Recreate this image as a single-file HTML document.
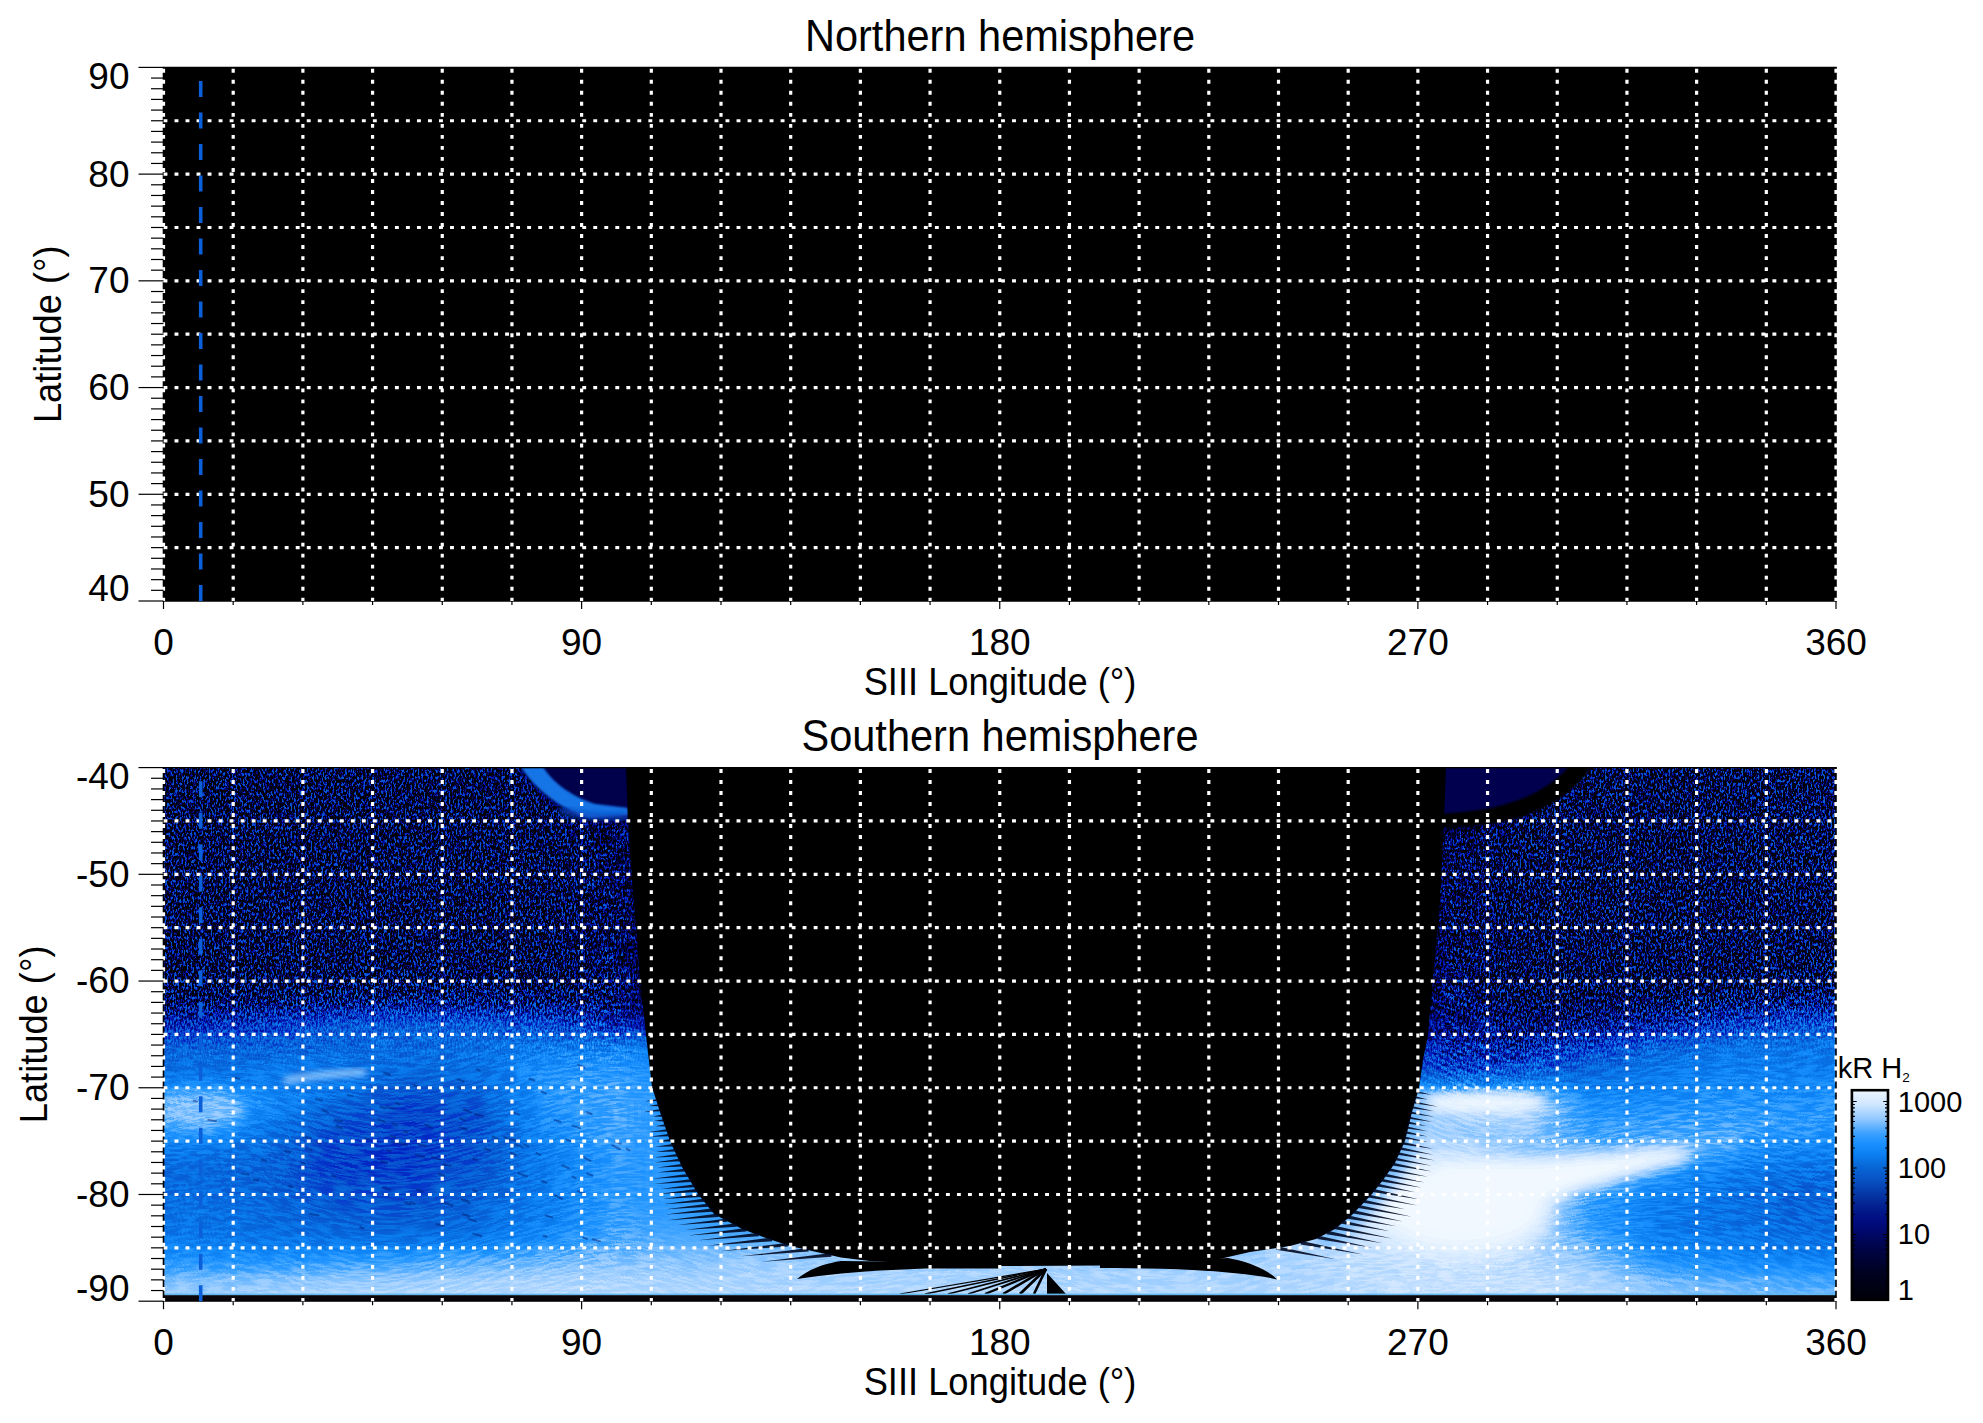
<!DOCTYPE html>
<html><head><meta charset="utf-8"><style>
html,body{margin:0;padding:0;background:#fff;width:1983px;height:1423px;overflow:hidden}
svg{display:block}
text{font-family:'Liberation Sans',sans-serif}
</style></head><body>
<svg width="1983" height="1423" viewBox="0 0 1983 1423">
<rect x="163.5" y="67.4" width="1672.5" height="533.6" fill="#000"/>
<g stroke="#000" fill="none"><line x1="163.5" y1="67.4" x2="163.5" y2="601.0" stroke-width="1.6"/><line x1="1836.0" y1="67.4" x2="1836.0" y2="601.0" stroke-width="1.6"/><line x1="162.7" y1="67.4" x2="1836.8" y2="67.4" stroke-width="1.3"/><line x1="162.7" y1="601.0" x2="1836.8" y2="601.0" stroke-width="1.3"/></g><g stroke="#fff" stroke-width="3.2" stroke-dasharray="3.9 7.12" fill="none"><line x1="163.50" y1="67.40" x2="163.50" y2="601.00" stroke-dashoffset="-1.4"/><line x1="233.19" y1="67.40" x2="233.19" y2="601.00" stroke-dashoffset="-1.4"/><line x1="302.88" y1="67.40" x2="302.88" y2="601.00" stroke-dashoffset="-1.4"/><line x1="372.56" y1="67.40" x2="372.56" y2="601.00" stroke-dashoffset="-1.4"/><line x1="442.25" y1="67.40" x2="442.25" y2="601.00" stroke-dashoffset="-1.4"/><line x1="511.94" y1="67.40" x2="511.94" y2="601.00" stroke-dashoffset="-1.4"/><line x1="581.62" y1="67.40" x2="581.62" y2="601.00" stroke-dashoffset="-1.4"/><line x1="651.31" y1="67.40" x2="651.31" y2="601.00" stroke-dashoffset="-1.4"/><line x1="721.00" y1="67.40" x2="721.00" y2="601.00" stroke-dashoffset="-1.4"/><line x1="790.69" y1="67.40" x2="790.69" y2="601.00" stroke-dashoffset="-1.4"/><line x1="860.38" y1="67.40" x2="860.38" y2="601.00" stroke-dashoffset="-1.4"/><line x1="930.06" y1="67.40" x2="930.06" y2="601.00" stroke-dashoffset="-1.4"/><line x1="999.75" y1="67.40" x2="999.75" y2="601.00" stroke-dashoffset="-1.4"/><line x1="1069.44" y1="67.40" x2="1069.44" y2="601.00" stroke-dashoffset="-1.4"/><line x1="1139.12" y1="67.40" x2="1139.12" y2="601.00" stroke-dashoffset="-1.4"/><line x1="1208.81" y1="67.40" x2="1208.81" y2="601.00" stroke-dashoffset="-1.4"/><line x1="1278.50" y1="67.40" x2="1278.50" y2="601.00" stroke-dashoffset="-1.4"/><line x1="1348.19" y1="67.40" x2="1348.19" y2="601.00" stroke-dashoffset="-1.4"/><line x1="1417.88" y1="67.40" x2="1417.88" y2="601.00" stroke-dashoffset="-1.4"/><line x1="1487.56" y1="67.40" x2="1487.56" y2="601.00" stroke-dashoffset="-1.4"/><line x1="1557.25" y1="67.40" x2="1557.25" y2="601.00" stroke-dashoffset="-1.4"/><line x1="1626.94" y1="67.40" x2="1626.94" y2="601.00" stroke-dashoffset="-1.4"/><line x1="1696.62" y1="67.40" x2="1696.62" y2="601.00" stroke-dashoffset="-1.4"/><line x1="1766.31" y1="67.40" x2="1766.31" y2="601.00" stroke-dashoffset="-1.4"/><line x1="1836.00" y1="67.40" x2="1836.00" y2="601.00" stroke-dashoffset="-1.4"/><line x1="163.50" y1="120.76" x2="1836.00" y2="120.76"/><line x1="163.50" y1="174.12" x2="1836.00" y2="174.12"/><line x1="163.50" y1="227.48" x2="1836.00" y2="227.48"/><line x1="163.50" y1="280.84" x2="1836.00" y2="280.84"/><line x1="163.50" y1="334.20" x2="1836.00" y2="334.20"/><line x1="163.50" y1="387.56" x2="1836.00" y2="387.56"/><line x1="163.50" y1="440.92" x2="1836.00" y2="440.92"/><line x1="163.50" y1="494.28" x2="1836.00" y2="494.28"/><line x1="163.50" y1="547.64" x2="1836.00" y2="547.64"/></g>
<line x1="200.7" y1="601.0" x2="200.7" y2="67.4" stroke="#0b5fd8" stroke-width="3.6" stroke-dasharray="16 15.5"/>
<g stroke="#000" stroke-width="1.2"><line x1="138.5" y1="67.40" x2="163.50" y2="67.40"/><line x1="151" y1="78.07" x2="163.50" y2="78.07"/><line x1="151" y1="88.74" x2="163.50" y2="88.74"/><line x1="151" y1="99.42" x2="163.50" y2="99.42"/><line x1="151" y1="110.09" x2="163.50" y2="110.09"/><line x1="151" y1="120.76" x2="163.50" y2="120.76"/><line x1="151" y1="131.43" x2="163.50" y2="131.43"/><line x1="151" y1="142.10" x2="163.50" y2="142.10"/><line x1="151" y1="152.78" x2="163.50" y2="152.78"/><line x1="151" y1="163.45" x2="163.50" y2="163.45"/><line x1="138.5" y1="174.12" x2="163.50" y2="174.12"/><line x1="151" y1="184.79" x2="163.50" y2="184.79"/><line x1="151" y1="195.46" x2="163.50" y2="195.46"/><line x1="151" y1="206.14" x2="163.50" y2="206.14"/><line x1="151" y1="216.81" x2="163.50" y2="216.81"/><line x1="151" y1="227.48" x2="163.50" y2="227.48"/><line x1="151" y1="238.15" x2="163.50" y2="238.15"/><line x1="151" y1="248.82" x2="163.50" y2="248.82"/><line x1="151" y1="259.50" x2="163.50" y2="259.50"/><line x1="151" y1="270.17" x2="163.50" y2="270.17"/><line x1="138.5" y1="280.84" x2="163.50" y2="280.84"/><line x1="151" y1="291.51" x2="163.50" y2="291.51"/><line x1="151" y1="302.18" x2="163.50" y2="302.18"/><line x1="151" y1="312.86" x2="163.50" y2="312.86"/><line x1="151" y1="323.53" x2="163.50" y2="323.53"/><line x1="151" y1="334.20" x2="163.50" y2="334.20"/><line x1="151" y1="344.87" x2="163.50" y2="344.87"/><line x1="151" y1="355.54" x2="163.50" y2="355.54"/><line x1="151" y1="366.22" x2="163.50" y2="366.22"/><line x1="151" y1="376.89" x2="163.50" y2="376.89"/><line x1="138.5" y1="387.56" x2="163.50" y2="387.56"/><line x1="151" y1="398.23" x2="163.50" y2="398.23"/><line x1="151" y1="408.90" x2="163.50" y2="408.90"/><line x1="151" y1="419.58" x2="163.50" y2="419.58"/><line x1="151" y1="430.25" x2="163.50" y2="430.25"/><line x1="151" y1="440.92" x2="163.50" y2="440.92"/><line x1="151" y1="451.59" x2="163.50" y2="451.59"/><line x1="151" y1="462.26" x2="163.50" y2="462.26"/><line x1="151" y1="472.94" x2="163.50" y2="472.94"/><line x1="151" y1="483.61" x2="163.50" y2="483.61"/><line x1="138.5" y1="494.28" x2="163.50" y2="494.28"/><line x1="151" y1="504.95" x2="163.50" y2="504.95"/><line x1="151" y1="515.62" x2="163.50" y2="515.62"/><line x1="151" y1="526.30" x2="163.50" y2="526.30"/><line x1="151" y1="536.97" x2="163.50" y2="536.97"/><line x1="151" y1="547.64" x2="163.50" y2="547.64"/><line x1="151" y1="558.31" x2="163.50" y2="558.31"/><line x1="151" y1="568.98" x2="163.50" y2="568.98"/><line x1="151" y1="579.66" x2="163.50" y2="579.66"/><line x1="151" y1="590.33" x2="163.50" y2="590.33"/><line x1="138.5" y1="601.00" x2="163.50" y2="601.00"/><line x1="163.50" y1="601.00" x2="163.50" y2="609.00"/><line x1="233.19" y1="601.00" x2="233.19" y2="605.00"/><line x1="302.88" y1="601.00" x2="302.88" y2="605.00"/><line x1="372.56" y1="601.00" x2="372.56" y2="605.00"/><line x1="442.25" y1="601.00" x2="442.25" y2="605.00"/><line x1="511.94" y1="601.00" x2="511.94" y2="605.00"/><line x1="581.62" y1="601.00" x2="581.62" y2="609.00"/><line x1="651.31" y1="601.00" x2="651.31" y2="605.00"/><line x1="721.00" y1="601.00" x2="721.00" y2="605.00"/><line x1="790.69" y1="601.00" x2="790.69" y2="605.00"/><line x1="860.38" y1="601.00" x2="860.38" y2="605.00"/><line x1="930.06" y1="601.00" x2="930.06" y2="605.00"/><line x1="999.75" y1="601.00" x2="999.75" y2="609.00"/><line x1="1069.44" y1="601.00" x2="1069.44" y2="605.00"/><line x1="1139.12" y1="601.00" x2="1139.12" y2="605.00"/><line x1="1208.81" y1="601.00" x2="1208.81" y2="605.00"/><line x1="1278.50" y1="601.00" x2="1278.50" y2="605.00"/><line x1="1348.19" y1="601.00" x2="1348.19" y2="605.00"/><line x1="1417.88" y1="601.00" x2="1417.88" y2="609.00"/><line x1="1487.56" y1="601.00" x2="1487.56" y2="605.00"/><line x1="1557.25" y1="601.00" x2="1557.25" y2="605.00"/><line x1="1626.94" y1="601.00" x2="1626.94" y2="605.00"/><line x1="1696.62" y1="601.00" x2="1696.62" y2="605.00"/><line x1="1766.31" y1="601.00" x2="1766.31" y2="605.00"/><line x1="1836.00" y1="601.00" x2="1836.00" y2="609.00"/></g><g fill="#000"><text x="129.5" y="89.3" text-anchor="end" font-size="37">90</text><text x="129.5" y="186.8" text-anchor="end" font-size="37">80</text><text x="129.5" y="293.4" text-anchor="end" font-size="37">70</text><text x="129.5" y="400.1" text-anchor="end" font-size="37">60</text><text x="129.5" y="506.8" text-anchor="end" font-size="37">50</text><text x="129.5" y="601.0" text-anchor="end" font-size="37">40</text><text x="163.5" y="655.0" text-anchor="middle" font-size="37">0</text><text x="581.6" y="655.0" text-anchor="middle" font-size="37">90</text><text x="999.8" y="655.0" text-anchor="middle" font-size="37">180</text><text x="1417.9" y="655.0" text-anchor="middle" font-size="37">270</text><text x="1836.0" y="655.0" text-anchor="middle" font-size="37">360</text><text x="1000" y="50.8" text-anchor="middle" font-size="43.5" transform="translate(1000 0) scale(0.955 1) translate(-1000 0)">Northern hemisphere</text><text x="1000" y="694.8" text-anchor="middle" font-size="38" transform="translate(1000 0) scale(0.955 1) translate(-1000 0)">SIII Longitude (°)</text><text x="0" y="0" text-anchor="middle" font-size="39" transform="translate(60.8 334.2) rotate(-90) scale(0.93 1)">Latitude (°)</text></g>
<defs><linearGradient id="g0" x1="163.5" x2="1836.0" y1="0" y2="0" gradientUnits="userSpaceOnUse"><stop offset="0.0208" stop-color="#36bf00"/><stop offset="0.0625" stop-color="#36bf00"/><stop offset="0.1042" stop-color="#36bf00"/><stop offset="0.1458" stop-color="#36bf00"/><stop offset="0.1875" stop-color="#36bf00"/><stop offset="0.2292" stop-color="#36bf00"/><stop offset="0.2708" stop-color="#3d9933"/><stop offset="0.3125" stop-color="#3d0000"/><stop offset="0.3542" stop-color="#3d0000"/><stop offset="0.3958" stop-color="#3d0000"/><stop offset="0.4375" stop-color="#3d0000"/><stop offset="0.4792" stop-color="#3d0000"/><stop offset="0.5208" stop-color="#3d0000"/><stop offset="0.5625" stop-color="#3d0000"/><stop offset="0.6042" stop-color="#3d0000"/><stop offset="0.6458" stop-color="#3d0000"/><stop offset="0.6875" stop-color="#3d0000"/><stop offset="0.7292" stop-color="#3d0000"/><stop offset="0.7708" stop-color="#3d9933"/><stop offset="0.8125" stop-color="#36bf00"/><stop offset="0.8542" stop-color="#36bf00"/><stop offset="0.8958" stop-color="#36bf00"/><stop offset="0.9375" stop-color="#38bf00"/><stop offset="0.9792" stop-color="#3bbf00"/></linearGradient><linearGradient id="g1" x1="163.5" x2="1836.0" y1="0" y2="0" gradientUnits="userSpaceOnUse"><stop offset="0.0208" stop-color="#36bf00"/><stop offset="0.0625" stop-color="#36bf00"/><stop offset="0.1042" stop-color="#36bf00"/><stop offset="0.1458" stop-color="#36bf00"/><stop offset="0.1875" stop-color="#36bf00"/><stop offset="0.2292" stop-color="#36bf00"/><stop offset="0.2708" stop-color="#3d9933"/><stop offset="0.3125" stop-color="#3d0000"/><stop offset="0.3542" stop-color="#3d0000"/><stop offset="0.3958" stop-color="#3d0000"/><stop offset="0.4375" stop-color="#3d0000"/><stop offset="0.4792" stop-color="#3d0000"/><stop offset="0.5208" stop-color="#3d0000"/><stop offset="0.5625" stop-color="#3d0000"/><stop offset="0.6042" stop-color="#3d0000"/><stop offset="0.6458" stop-color="#3d0000"/><stop offset="0.6875" stop-color="#3d0000"/><stop offset="0.7292" stop-color="#3d0000"/><stop offset="0.7708" stop-color="#3d9933"/><stop offset="0.8125" stop-color="#36bf00"/><stop offset="0.8542" stop-color="#36bf00"/><stop offset="0.8958" stop-color="#36bf00"/><stop offset="0.9375" stop-color="#38bf00"/><stop offset="0.9792" stop-color="#3bbf00"/></linearGradient><linearGradient id="g2" x1="163.5" x2="1836.0" y1="0" y2="0" gradientUnits="userSpaceOnUse"><stop offset="0.0208" stop-color="#36bf00"/><stop offset="0.0625" stop-color="#36bf00"/><stop offset="0.1042" stop-color="#36bf00"/><stop offset="0.1458" stop-color="#36bf00"/><stop offset="0.1875" stop-color="#36bf00"/><stop offset="0.2292" stop-color="#36bf00"/><stop offset="0.2708" stop-color="#3d9933"/><stop offset="0.3125" stop-color="#3d0000"/><stop offset="0.3542" stop-color="#3d0000"/><stop offset="0.3958" stop-color="#3d0000"/><stop offset="0.4375" stop-color="#3d0000"/><stop offset="0.4792" stop-color="#3d0000"/><stop offset="0.5208" stop-color="#3d0000"/><stop offset="0.5625" stop-color="#3d0000"/><stop offset="0.6042" stop-color="#3d0000"/><stop offset="0.6458" stop-color="#3d0000"/><stop offset="0.6875" stop-color="#3d0000"/><stop offset="0.7292" stop-color="#3d0000"/><stop offset="0.7708" stop-color="#3d9933"/><stop offset="0.8125" stop-color="#36bf00"/><stop offset="0.8542" stop-color="#36bf00"/><stop offset="0.8958" stop-color="#36bf00"/><stop offset="0.9375" stop-color="#38bf00"/><stop offset="0.9792" stop-color="#3bbf00"/></linearGradient><linearGradient id="g3" x1="163.5" x2="1836.0" y1="0" y2="0" gradientUnits="userSpaceOnUse"><stop offset="0.0208" stop-color="#36bf00"/><stop offset="0.0625" stop-color="#36bf00"/><stop offset="0.1042" stop-color="#36bf00"/><stop offset="0.1458" stop-color="#36bf00"/><stop offset="0.1875" stop-color="#36bf00"/><stop offset="0.2292" stop-color="#36bf00"/><stop offset="0.2708" stop-color="#3d9936"/><stop offset="0.3125" stop-color="#3d0000"/><stop offset="0.3542" stop-color="#3d0000"/><stop offset="0.3958" stop-color="#3d0000"/><stop offset="0.4375" stop-color="#3d0000"/><stop offset="0.4792" stop-color="#3d0000"/><stop offset="0.5208" stop-color="#3d0000"/><stop offset="0.5625" stop-color="#3d0000"/><stop offset="0.6042" stop-color="#3d0000"/><stop offset="0.6458" stop-color="#3d0000"/><stop offset="0.6875" stop-color="#3d0000"/><stop offset="0.7292" stop-color="#3d0000"/><stop offset="0.7708" stop-color="#3d9936"/><stop offset="0.8125" stop-color="#36bf00"/><stop offset="0.8542" stop-color="#36bf00"/><stop offset="0.8958" stop-color="#36bf00"/><stop offset="0.9375" stop-color="#38bf00"/><stop offset="0.9792" stop-color="#3bbf00"/></linearGradient><linearGradient id="g4" x1="163.5" x2="1836.0" y1="0" y2="0" gradientUnits="userSpaceOnUse"><stop offset="0.0208" stop-color="#36bf00"/><stop offset="0.0625" stop-color="#36bf00"/><stop offset="0.1042" stop-color="#36bf00"/><stop offset="0.1458" stop-color="#36bf00"/><stop offset="0.1875" stop-color="#36bf00"/><stop offset="0.2292" stop-color="#36bf00"/><stop offset="0.2708" stop-color="#3d993d"/><stop offset="0.3125" stop-color="#3d0000"/><stop offset="0.3542" stop-color="#3d0000"/><stop offset="0.3958" stop-color="#3d0000"/><stop offset="0.4375" stop-color="#3d0000"/><stop offset="0.4792" stop-color="#3d0000"/><stop offset="0.5208" stop-color="#3d0000"/><stop offset="0.5625" stop-color="#3d0000"/><stop offset="0.6042" stop-color="#3d0000"/><stop offset="0.6458" stop-color="#3d0000"/><stop offset="0.6875" stop-color="#3d0000"/><stop offset="0.7292" stop-color="#3d0000"/><stop offset="0.7708" stop-color="#3d993d"/><stop offset="0.8125" stop-color="#36bf00"/><stop offset="0.8542" stop-color="#36bf00"/><stop offset="0.8958" stop-color="#36bf00"/><stop offset="0.9375" stop-color="#38bf00"/><stop offset="0.9792" stop-color="#3bbf00"/></linearGradient><linearGradient id="g5" x1="163.5" x2="1836.0" y1="0" y2="0" gradientUnits="userSpaceOnUse"><stop offset="0.0208" stop-color="#36bf00"/><stop offset="0.0625" stop-color="#36bf00"/><stop offset="0.1042" stop-color="#36bf00"/><stop offset="0.1458" stop-color="#36bf00"/><stop offset="0.1875" stop-color="#36bf00"/><stop offset="0.2292" stop-color="#36bf00"/><stop offset="0.2708" stop-color="#3d9940"/><stop offset="0.3125" stop-color="#3d0000"/><stop offset="0.3542" stop-color="#3d0000"/><stop offset="0.3958" stop-color="#3d0000"/><stop offset="0.4375" stop-color="#3d0000"/><stop offset="0.4792" stop-color="#3d0000"/><stop offset="0.5208" stop-color="#3d0000"/><stop offset="0.5625" stop-color="#3d0000"/><stop offset="0.6042" stop-color="#3d0000"/><stop offset="0.6458" stop-color="#3d0000"/><stop offset="0.6875" stop-color="#3d0000"/><stop offset="0.7292" stop-color="#3d0000"/><stop offset="0.7708" stop-color="#3d9940"/><stop offset="0.8125" stop-color="#36bf00"/><stop offset="0.8542" stop-color="#36bf00"/><stop offset="0.8958" stop-color="#35bf00"/><stop offset="0.9375" stop-color="#37bf00"/><stop offset="0.9792" stop-color="#3abf00"/></linearGradient><linearGradient id="g6" x1="163.5" x2="1836.0" y1="0" y2="0" gradientUnits="userSpaceOnUse"><stop offset="0.0208" stop-color="#36bf00"/><stop offset="0.0625" stop-color="#36bf00"/><stop offset="0.1042" stop-color="#36bf00"/><stop offset="0.1458" stop-color="#36bf00"/><stop offset="0.1875" stop-color="#36bf00"/><stop offset="0.2292" stop-color="#36bf00"/><stop offset="0.2708" stop-color="#3d9940"/><stop offset="0.3125" stop-color="#3d0000"/><stop offset="0.3542" stop-color="#3d0000"/><stop offset="0.3958" stop-color="#3d0000"/><stop offset="0.4375" stop-color="#3d0000"/><stop offset="0.4792" stop-color="#3d0000"/><stop offset="0.5208" stop-color="#3d0000"/><stop offset="0.5625" stop-color="#3d0000"/><stop offset="0.6042" stop-color="#3d0000"/><stop offset="0.6458" stop-color="#3d0000"/><stop offset="0.6875" stop-color="#3d0000"/><stop offset="0.7292" stop-color="#3d0000"/><stop offset="0.7708" stop-color="#3d9940"/><stop offset="0.8125" stop-color="#36bf00"/><stop offset="0.8542" stop-color="#36bf00"/><stop offset="0.8958" stop-color="#34bf00"/><stop offset="0.9375" stop-color="#36bf00"/><stop offset="0.9792" stop-color="#39bf00"/></linearGradient><linearGradient id="g7" x1="163.5" x2="1836.0" y1="0" y2="0" gradientUnits="userSpaceOnUse"><stop offset="0.0208" stop-color="#36bf00"/><stop offset="0.0625" stop-color="#36bf00"/><stop offset="0.1042" stop-color="#36bf00"/><stop offset="0.1458" stop-color="#36bf00"/><stop offset="0.1875" stop-color="#36bf00"/><stop offset="0.2292" stop-color="#36bf00"/><stop offset="0.2708" stop-color="#3d9940"/><stop offset="0.3125" stop-color="#3d0000"/><stop offset="0.3542" stop-color="#3d0000"/><stop offset="0.3958" stop-color="#3d0000"/><stop offset="0.4375" stop-color="#3d0000"/><stop offset="0.4792" stop-color="#3d0000"/><stop offset="0.5208" stop-color="#3d0000"/><stop offset="0.5625" stop-color="#3d0000"/><stop offset="0.6042" stop-color="#3d0000"/><stop offset="0.6458" stop-color="#3d0000"/><stop offset="0.6875" stop-color="#3d0000"/><stop offset="0.7292" stop-color="#3d0000"/><stop offset="0.7708" stop-color="#3d9940"/><stop offset="0.8125" stop-color="#36bf00"/><stop offset="0.8542" stop-color="#36bf00"/><stop offset="0.8958" stop-color="#33bf00"/><stop offset="0.9375" stop-color="#36bf00"/><stop offset="0.9792" stop-color="#38bf00"/></linearGradient><linearGradient id="g8" x1="163.5" x2="1836.0" y1="0" y2="0" gradientUnits="userSpaceOnUse"><stop offset="0.0208" stop-color="#36bf00"/><stop offset="0.0625" stop-color="#36bf00"/><stop offset="0.1042" stop-color="#36bf00"/><stop offset="0.1458" stop-color="#36bf00"/><stop offset="0.1875" stop-color="#36bf00"/><stop offset="0.2292" stop-color="#36bf00"/><stop offset="0.2708" stop-color="#3d9940"/><stop offset="0.3125" stop-color="#3d0000"/><stop offset="0.3542" stop-color="#3d0000"/><stop offset="0.3958" stop-color="#3d0000"/><stop offset="0.4375" stop-color="#3d0000"/><stop offset="0.4792" stop-color="#3d0000"/><stop offset="0.5208" stop-color="#3d0000"/><stop offset="0.5625" stop-color="#3d0000"/><stop offset="0.6042" stop-color="#3d0000"/><stop offset="0.6458" stop-color="#3d0000"/><stop offset="0.6875" stop-color="#3d0000"/><stop offset="0.7292" stop-color="#3d0000"/><stop offset="0.7708" stop-color="#3d9940"/><stop offset="0.8125" stop-color="#36bf00"/><stop offset="0.8542" stop-color="#36bf00"/><stop offset="0.8958" stop-color="#33bf00"/><stop offset="0.9375" stop-color="#36bf00"/><stop offset="0.9792" stop-color="#38bf00"/></linearGradient><linearGradient id="g9" x1="163.5" x2="1836.0" y1="0" y2="0" gradientUnits="userSpaceOnUse"><stop offset="0.0208" stop-color="#36bf00"/><stop offset="0.0625" stop-color="#36bf00"/><stop offset="0.1042" stop-color="#36bf00"/><stop offset="0.1458" stop-color="#36bf00"/><stop offset="0.1875" stop-color="#36bf00"/><stop offset="0.2292" stop-color="#36bf00"/><stop offset="0.2708" stop-color="#3d9940"/><stop offset="0.3125" stop-color="#3d0000"/><stop offset="0.3542" stop-color="#3d0000"/><stop offset="0.3958" stop-color="#3d0000"/><stop offset="0.4375" stop-color="#3d0000"/><stop offset="0.4792" stop-color="#3d0000"/><stop offset="0.5208" stop-color="#3d0000"/><stop offset="0.5625" stop-color="#3d0000"/><stop offset="0.6042" stop-color="#3d0000"/><stop offset="0.6458" stop-color="#3d0000"/><stop offset="0.6875" stop-color="#3d0000"/><stop offset="0.7292" stop-color="#3d0000"/><stop offset="0.7708" stop-color="#3d9940"/><stop offset="0.8125" stop-color="#36bf00"/><stop offset="0.8542" stop-color="#36bf00"/><stop offset="0.8958" stop-color="#34bf00"/><stop offset="0.9375" stop-color="#36bf00"/><stop offset="0.9792" stop-color="#38bf00"/></linearGradient><linearGradient id="g10" x1="163.5" x2="1836.0" y1="0" y2="0" gradientUnits="userSpaceOnUse"><stop offset="0.0208" stop-color="#36bf00"/><stop offset="0.0625" stop-color="#36bf00"/><stop offset="0.1042" stop-color="#36bf00"/><stop offset="0.1458" stop-color="#36bf00"/><stop offset="0.1875" stop-color="#36bf00"/><stop offset="0.2292" stop-color="#36bf00"/><stop offset="0.2708" stop-color="#3d9940"/><stop offset="0.3125" stop-color="#3d0000"/><stop offset="0.3542" stop-color="#3d0000"/><stop offset="0.3958" stop-color="#3d0000"/><stop offset="0.4375" stop-color="#3d0000"/><stop offset="0.4792" stop-color="#3d0000"/><stop offset="0.5208" stop-color="#3d0000"/><stop offset="0.5625" stop-color="#3d0000"/><stop offset="0.6042" stop-color="#3d0000"/><stop offset="0.6458" stop-color="#3d0000"/><stop offset="0.6875" stop-color="#3d0000"/><stop offset="0.7292" stop-color="#3d0000"/><stop offset="0.7708" stop-color="#3d9940"/><stop offset="0.8125" stop-color="#36bf00"/><stop offset="0.8542" stop-color="#36bf00"/><stop offset="0.8958" stop-color="#35bf00"/><stop offset="0.9375" stop-color="#36bf00"/><stop offset="0.9792" stop-color="#38bf00"/></linearGradient><linearGradient id="g11" x1="163.5" x2="1836.0" y1="0" y2="0" gradientUnits="userSpaceOnUse"><stop offset="0.0208" stop-color="#36bf00"/><stop offset="0.0625" stop-color="#36bf00"/><stop offset="0.1042" stop-color="#36bf00"/><stop offset="0.1458" stop-color="#36bf00"/><stop offset="0.1875" stop-color="#36bf00"/><stop offset="0.2292" stop-color="#36bf00"/><stop offset="0.2708" stop-color="#3d9940"/><stop offset="0.3125" stop-color="#3d0000"/><stop offset="0.3542" stop-color="#3d0000"/><stop offset="0.3958" stop-color="#3d0000"/><stop offset="0.4375" stop-color="#3d0000"/><stop offset="0.4792" stop-color="#3d0000"/><stop offset="0.5208" stop-color="#3d0000"/><stop offset="0.5625" stop-color="#3d0000"/><stop offset="0.6042" stop-color="#3d0000"/><stop offset="0.6458" stop-color="#3d0000"/><stop offset="0.6875" stop-color="#3d0000"/><stop offset="0.7292" stop-color="#3d0000"/><stop offset="0.7708" stop-color="#3d9940"/><stop offset="0.8125" stop-color="#36bf00"/><stop offset="0.8542" stop-color="#36bf00"/><stop offset="0.8958" stop-color="#36bf00"/><stop offset="0.9375" stop-color="#36bf00"/><stop offset="0.9792" stop-color="#38bf00"/></linearGradient><linearGradient id="g12" x1="163.5" x2="1836.0" y1="0" y2="0" gradientUnits="userSpaceOnUse"><stop offset="0.0208" stop-color="#36bf00"/><stop offset="0.0625" stop-color="#36bf00"/><stop offset="0.1042" stop-color="#36bf00"/><stop offset="0.1458" stop-color="#36bf00"/><stop offset="0.1875" stop-color="#36bf00"/><stop offset="0.2292" stop-color="#36bf00"/><stop offset="0.2708" stop-color="#3d9940"/><stop offset="0.3125" stop-color="#3d0000"/><stop offset="0.3542" stop-color="#3d0000"/><stop offset="0.3958" stop-color="#3d0000"/><stop offset="0.4375" stop-color="#3d0000"/><stop offset="0.4792" stop-color="#3d0000"/><stop offset="0.5208" stop-color="#3d0000"/><stop offset="0.5625" stop-color="#3d0000"/><stop offset="0.6042" stop-color="#3d0000"/><stop offset="0.6458" stop-color="#3d0000"/><stop offset="0.6875" stop-color="#3d0000"/><stop offset="0.7292" stop-color="#3d0000"/><stop offset="0.7708" stop-color="#3d9940"/><stop offset="0.8125" stop-color="#36bf00"/><stop offset="0.8542" stop-color="#36bf00"/><stop offset="0.8958" stop-color="#36bf00"/><stop offset="0.9375" stop-color="#36bf00"/><stop offset="0.9792" stop-color="#38bf00"/></linearGradient><linearGradient id="g13" x1="163.5" x2="1836.0" y1="0" y2="0" gradientUnits="userSpaceOnUse"><stop offset="0.0208" stop-color="#36bf00"/><stop offset="0.0625" stop-color="#36bf00"/><stop offset="0.1042" stop-color="#36bf00"/><stop offset="0.1458" stop-color="#36bf00"/><stop offset="0.1875" stop-color="#36bf00"/><stop offset="0.2292" stop-color="#36bf00"/><stop offset="0.2708" stop-color="#3e9940"/><stop offset="0.3125" stop-color="#3d0000"/><stop offset="0.3542" stop-color="#3d0000"/><stop offset="0.3958" stop-color="#3d0000"/><stop offset="0.4375" stop-color="#3d0000"/><stop offset="0.4792" stop-color="#3d0000"/><stop offset="0.5208" stop-color="#3d0000"/><stop offset="0.5625" stop-color="#3d0000"/><stop offset="0.6042" stop-color="#3d0000"/><stop offset="0.6458" stop-color="#3d0000"/><stop offset="0.6875" stop-color="#3d0000"/><stop offset="0.7292" stop-color="#3d0000"/><stop offset="0.7708" stop-color="#3e9940"/><stop offset="0.8125" stop-color="#36bf00"/><stop offset="0.8542" stop-color="#36bf00"/><stop offset="0.8958" stop-color="#36bf00"/><stop offset="0.9375" stop-color="#36bf00"/><stop offset="0.9792" stop-color="#39bf00"/></linearGradient><linearGradient id="g14" x1="163.5" x2="1836.0" y1="0" y2="0" gradientUnits="userSpaceOnUse"><stop offset="0.0208" stop-color="#36bf00"/><stop offset="0.0625" stop-color="#36bf00"/><stop offset="0.1042" stop-color="#36bf00"/><stop offset="0.1458" stop-color="#36bf00"/><stop offset="0.1875" stop-color="#36bf00"/><stop offset="0.2292" stop-color="#36bf00"/><stop offset="0.2708" stop-color="#3f9940"/><stop offset="0.3125" stop-color="#3d0000"/><stop offset="0.3542" stop-color="#3d0000"/><stop offset="0.3958" stop-color="#3d0000"/><stop offset="0.4375" stop-color="#3d0000"/><stop offset="0.4792" stop-color="#3d0000"/><stop offset="0.5208" stop-color="#3d0000"/><stop offset="0.5625" stop-color="#3d0000"/><stop offset="0.6042" stop-color="#3d0000"/><stop offset="0.6458" stop-color="#3d0000"/><stop offset="0.6875" stop-color="#3d0000"/><stop offset="0.7292" stop-color="#3d0000"/><stop offset="0.7708" stop-color="#3f9940"/><stop offset="0.8125" stop-color="#36bf00"/><stop offset="0.8542" stop-color="#36bf00"/><stop offset="0.8958" stop-color="#36bf00"/><stop offset="0.9375" stop-color="#36bf00"/><stop offset="0.9792" stop-color="#3abf00"/></linearGradient><linearGradient id="g15" x1="163.5" x2="1836.0" y1="0" y2="0" gradientUnits="userSpaceOnUse"><stop offset="0.0208" stop-color="#37bf00"/><stop offset="0.0625" stop-color="#38bf00"/><stop offset="0.1042" stop-color="#39bf00"/><stop offset="0.1458" stop-color="#39bf00"/><stop offset="0.1875" stop-color="#39bf00"/><stop offset="0.2292" stop-color="#38bf00"/><stop offset="0.2708" stop-color="#419940"/><stop offset="0.3125" stop-color="#3d0000"/><stop offset="0.3542" stop-color="#3d0000"/><stop offset="0.3958" stop-color="#3d0000"/><stop offset="0.4375" stop-color="#3d0000"/><stop offset="0.4792" stop-color="#3d0000"/><stop offset="0.5208" stop-color="#3d0000"/><stop offset="0.5625" stop-color="#3d0000"/><stop offset="0.6042" stop-color="#3d0000"/><stop offset="0.6458" stop-color="#3d0000"/><stop offset="0.6875" stop-color="#3d0000"/><stop offset="0.7292" stop-color="#3d0000"/><stop offset="0.7708" stop-color="#429940"/><stop offset="0.8125" stop-color="#36bf00"/><stop offset="0.8542" stop-color="#36bf00"/><stop offset="0.8958" stop-color="#37bf00"/><stop offset="0.9375" stop-color="#38bf03"/><stop offset="0.9792" stop-color="#3ebc03"/></linearGradient><linearGradient id="g16" x1="163.5" x2="1836.0" y1="0" y2="0" gradientUnits="userSpaceOnUse"><stop offset="0.0208" stop-color="#39bf00"/><stop offset="0.0625" stop-color="#3dbf00"/><stop offset="0.1042" stop-color="#41bf00"/><stop offset="0.1458" stop-color="#41bf00"/><stop offset="0.1875" stop-color="#41bf00"/><stop offset="0.2292" stop-color="#3dbf00"/><stop offset="0.2708" stop-color="#449940"/><stop offset="0.3125" stop-color="#3d0000"/><stop offset="0.3542" stop-color="#3d0000"/><stop offset="0.3958" stop-color="#3d0000"/><stop offset="0.4375" stop-color="#3d0000"/><stop offset="0.4792" stop-color="#3d0000"/><stop offset="0.5208" stop-color="#3d0000"/><stop offset="0.5625" stop-color="#3d0000"/><stop offset="0.6042" stop-color="#3d0000"/><stop offset="0.6458" stop-color="#3d0000"/><stop offset="0.6875" stop-color="#3d0000"/><stop offset="0.7292" stop-color="#3d0000"/><stop offset="0.7708" stop-color="#459940"/><stop offset="0.8125" stop-color="#36bf00"/><stop offset="0.8542" stop-color="#36bf00"/><stop offset="0.8958" stop-color="#39bf00"/><stop offset="0.9375" stop-color="#3dbf08"/><stop offset="0.9792" stop-color="#46b60a"/></linearGradient><linearGradient id="g17" x1="163.5" x2="1836.0" y1="0" y2="0" gradientUnits="userSpaceOnUse"><stop offset="0.0208" stop-color="#49a603"/><stop offset="0.0625" stop-color="#51a303"/><stop offset="0.1042" stop-color="#599d03"/><stop offset="0.1458" stop-color="#5b9b04"/><stop offset="0.1875" stop-color="#5a9d03"/><stop offset="0.2292" stop-color="#53a303"/><stop offset="0.2708" stop-color="#50893b"/><stop offset="0.3125" stop-color="#400000"/><stop offset="0.3542" stop-color="#400000"/><stop offset="0.3958" stop-color="#400000"/><stop offset="0.4375" stop-color="#400000"/><stop offset="0.4792" stop-color="#400000"/><stop offset="0.5208" stop-color="#400000"/><stop offset="0.5625" stop-color="#400000"/><stop offset="0.6042" stop-color="#400000"/><stop offset="0.6458" stop-color="#400000"/><stop offset="0.6875" stop-color="#400000"/><stop offset="0.7292" stop-color="#400000"/><stop offset="0.7708" stop-color="#4b8c40"/><stop offset="0.8125" stop-color="#3baf03"/><stop offset="0.8542" stop-color="#3eaf04"/><stop offset="0.8958" stop-color="#47ae04"/><stop offset="0.9375" stop-color="#51a80d"/><stop offset="0.9792" stop-color="#5c990f"/></linearGradient><linearGradient id="g18" x1="163.5" x2="1836.0" y1="0" y2="0" gradientUnits="userSpaceOnUse"><stop offset="0.0208" stop-color="#677308"/><stop offset="0.0625" stop-color="#736908"/><stop offset="0.1042" stop-color="#805a0a"/><stop offset="0.1458" stop-color="#88520b"/><stop offset="0.1875" stop-color="#845a0a"/><stop offset="0.2292" stop-color="#796908"/><stop offset="0.2708" stop-color="#676932"/><stop offset="0.3125" stop-color="#450000"/><stop offset="0.3542" stop-color="#450000"/><stop offset="0.3958" stop-color="#450000"/><stop offset="0.4375" stop-color="#450000"/><stop offset="0.4792" stop-color="#450000"/><stop offset="0.5208" stop-color="#450000"/><stop offset="0.5625" stop-color="#450000"/><stop offset="0.6042" stop-color="#450000"/><stop offset="0.6458" stop-color="#450000"/><stop offset="0.6875" stop-color="#450000"/><stop offset="0.7292" stop-color="#450000"/><stop offset="0.7708" stop-color="#517340"/><stop offset="0.8125" stop-color="#478f0a"/><stop offset="0.8542" stop-color="#4e8f0b"/><stop offset="0.8958" stop-color="#5f8c0d"/><stop offset="0.9375" stop-color="#737812"/><stop offset="0.9792" stop-color="#816612"/></linearGradient><linearGradient id="g19" x1="163.5" x2="1836.0" y1="0" y2="0" gradientUnits="userSpaceOnUse"><stop offset="0.0208" stop-color="#804b0d"/><stop offset="0.0625" stop-color="#8b410d"/><stop offset="0.1042" stop-color="#98300f"/><stop offset="0.1458" stop-color="#9f2911"/><stop offset="0.1875" stop-color="#9d300f"/><stop offset="0.2292" stop-color="#96400d"/><stop offset="0.2708" stop-color="#844b29"/><stop offset="0.3125" stop-color="#620000"/><stop offset="0.3542" stop-color="#620000"/><stop offset="0.3958" stop-color="#620000"/><stop offset="0.4375" stop-color="#620000"/><stop offset="0.4792" stop-color="#620000"/><stop offset="0.5208" stop-color="#620000"/><stop offset="0.5625" stop-color="#620000"/><stop offset="0.6042" stop-color="#620000"/><stop offset="0.6458" stop-color="#620000"/><stop offset="0.6875" stop-color="#620000"/><stop offset="0.7292" stop-color="#550000"/><stop offset="0.7708" stop-color="#5c663d"/><stop offset="0.8125" stop-color="#567c13"/><stop offset="0.8542" stop-color="#657112"/><stop offset="0.8958" stop-color="#796312"/><stop offset="0.9375" stop-color="#8e4c14"/><stop offset="0.9792" stop-color="#9a3d14"/></linearGradient><linearGradient id="g20" x1="163.5" x2="1836.0" y1="0" y2="0" gradientUnits="userSpaceOnUse"><stop offset="0.0208" stop-color="#962d12"/><stop offset="0.0625" stop-color="#982a12"/><stop offset="0.1042" stop-color="#9f2112"/><stop offset="0.1458" stop-color="#a21f13"/><stop offset="0.1875" stop-color="#a42112"/><stop offset="0.2292" stop-color="#a92612"/><stop offset="0.2708" stop-color="#a62d1f"/><stop offset="0.3125" stop-color="#960000"/><stop offset="0.3542" stop-color="#960000"/><stop offset="0.3958" stop-color="#960000"/><stop offset="0.4375" stop-color="#960000"/><stop offset="0.4792" stop-color="#960000"/><stop offset="0.5208" stop-color="#960000"/><stop offset="0.5625" stop-color="#960000"/><stop offset="0.6042" stop-color="#960000"/><stop offset="0.6458" stop-color="#960000"/><stop offset="0.6875" stop-color="#960000"/><stop offset="0.7292" stop-color="#710000"/><stop offset="0.7708" stop-color="#6b6636"/><stop offset="0.8125" stop-color="#697620"/><stop offset="0.8542" stop-color="#815517"/><stop offset="0.8958" stop-color="#953614"/><stop offset="0.9375" stop-color="#a12414"/><stop offset="0.9792" stop-color="#a71f14"/></linearGradient><linearGradient id="g21" x1="163.5" x2="1836.0" y1="0" y2="0" gradientUnits="userSpaceOnUse"><stop offset="0.0208" stop-color="#a31714"/><stop offset="0.0625" stop-color="#a21714"/><stop offset="0.1042" stop-color="#a71314"/><stop offset="0.1458" stop-color="#a31314"/><stop offset="0.1875" stop-color="#a81314"/><stop offset="0.2292" stop-color="#b61314"/><stop offset="0.2708" stop-color="#bb1718"/><stop offset="0.3125" stop-color="#b20000"/><stop offset="0.3542" stop-color="#b20000"/><stop offset="0.3958" stop-color="#b20000"/><stop offset="0.4375" stop-color="#b20000"/><stop offset="0.4792" stop-color="#b20000"/><stop offset="0.5208" stop-color="#b20000"/><stop offset="0.5625" stop-color="#b20000"/><stop offset="0.6042" stop-color="#b20000"/><stop offset="0.6458" stop-color="#b20000"/><stop offset="0.6875" stop-color="#b20000"/><stop offset="0.7292" stop-color="#860000"/><stop offset="0.7708" stop-color="#7a592f"/><stop offset="0.8125" stop-color="#7d6024"/><stop offset="0.8542" stop-color="#953618"/><stop offset="0.8958" stop-color="#a61714"/><stop offset="0.9375" stop-color="#ad0b14"/><stop offset="0.9792" stop-color="#af0b14"/></linearGradient><linearGradient id="g22" x1="163.5" x2="1836.0" y1="0" y2="0" gradientUnits="userSpaceOnUse"><stop offset="0.0208" stop-color="#a60814"/><stop offset="0.0625" stop-color="#aa0814"/><stop offset="0.1042" stop-color="#af0614"/><stop offset="0.1458" stop-color="#a30614"/><stop offset="0.1875" stop-color="#a80614"/><stop offset="0.2292" stop-color="#be0614"/><stop offset="0.2708" stop-color="#c30816"/><stop offset="0.3125" stop-color="#b60000"/><stop offset="0.3542" stop-color="#b60000"/><stop offset="0.3958" stop-color="#b60000"/><stop offset="0.4375" stop-color="#b60000"/><stop offset="0.4792" stop-color="#b60000"/><stop offset="0.5208" stop-color="#b60000"/><stop offset="0.5625" stop-color="#b60000"/><stop offset="0.6042" stop-color="#b60000"/><stop offset="0.6458" stop-color="#b60000"/><stop offset="0.6875" stop-color="#b60000"/><stop offset="0.7292" stop-color="#930000"/><stop offset="0.7708" stop-color="#8a4028"/><stop offset="0.8125" stop-color="#913921"/><stop offset="0.8542" stop-color="#a01216"/><stop offset="0.8958" stop-color="#ad0814"/><stop offset="0.9375" stop-color="#b20414"/><stop offset="0.9792" stop-color="#b10414"/></linearGradient><linearGradient id="g23" x1="163.5" x2="1836.0" y1="0" y2="0" gradientUnits="userSpaceOnUse"><stop offset="0.0208" stop-color="#b10014"/><stop offset="0.0625" stop-color="#b10014"/><stop offset="0.1042" stop-color="#af0016"/><stop offset="0.1458" stop-color="#9e0016"/><stop offset="0.1875" stop-color="#a40016"/><stop offset="0.2292" stop-color="#c20014"/><stop offset="0.2708" stop-color="#c80014"/><stop offset="0.3125" stop-color="#ba0000"/><stop offset="0.3542" stop-color="#ba0000"/><stop offset="0.3958" stop-color="#ba0000"/><stop offset="0.4375" stop-color="#ba0000"/><stop offset="0.4792" stop-color="#ba0000"/><stop offset="0.5208" stop-color="#ba0000"/><stop offset="0.5625" stop-color="#ba0000"/><stop offset="0.6042" stop-color="#ba0000"/><stop offset="0.6458" stop-color="#ba0000"/><stop offset="0.6875" stop-color="#bf0000"/><stop offset="0.7292" stop-color="#ac0000"/><stop offset="0.7708" stop-color="#a8261e"/><stop offset="0.8125" stop-color="#b11d1a"/><stop offset="0.8542" stop-color="#ab0014"/><stop offset="0.8958" stop-color="#b20014"/><stop offset="0.9375" stop-color="#b80014"/><stop offset="0.9792" stop-color="#b60014"/></linearGradient><linearGradient id="g24" x1="163.5" x2="1836.0" y1="0" y2="0" gradientUnits="userSpaceOnUse"><stop offset="0.0208" stop-color="#c30014"/><stop offset="0.0625" stop-color="#b90014"/><stop offset="0.1042" stop-color="#a70018"/><stop offset="0.1458" stop-color="#94001a"/><stop offset="0.1875" stop-color="#9d0018"/><stop offset="0.2292" stop-color="#c20014"/><stop offset="0.2708" stop-color="#cb0012"/><stop offset="0.3125" stop-color="#bf0000"/><stop offset="0.3542" stop-color="#bf0000"/><stop offset="0.3958" stop-color="#bf0000"/><stop offset="0.4375" stop-color="#bf0000"/><stop offset="0.4792" stop-color="#bf0000"/><stop offset="0.5208" stop-color="#bf0000"/><stop offset="0.5625" stop-color="#bf0000"/><stop offset="0.6042" stop-color="#bf0000"/><stop offset="0.6458" stop-color="#bf0000"/><stop offset="0.6875" stop-color="#cf0000"/><stop offset="0.7292" stop-color="#d20000"/><stop offset="0.7708" stop-color="#d60d12"/><stop offset="0.8125" stop-color="#dd0a11"/><stop offset="0.8542" stop-color="#b70012"/><stop offset="0.8958" stop-color="#b80014"/><stop offset="0.9375" stop-color="#bf0014"/><stop offset="0.9792" stop-color="#bc0014"/></linearGradient><linearGradient id="g25" x1="163.5" x2="1836.0" y1="0" y2="0" gradientUnits="userSpaceOnUse"><stop offset="0.0208" stop-color="#cb0014"/><stop offset="0.0625" stop-color="#b90014"/><stop offset="0.1042" stop-color="#9f001a"/><stop offset="0.1458" stop-color="#8e001d"/><stop offset="0.1875" stop-color="#98001a"/><stop offset="0.2292" stop-color="#c10014"/><stop offset="0.2708" stop-color="#cc0012"/><stop offset="0.3125" stop-color="#c20000"/><stop offset="0.3542" stop-color="#c20000"/><stop offset="0.3958" stop-color="#c20000"/><stop offset="0.4375" stop-color="#c20000"/><stop offset="0.4792" stop-color="#c20000"/><stop offset="0.5208" stop-color="#c20000"/><stop offset="0.5625" stop-color="#c20000"/><stop offset="0.6042" stop-color="#c20000"/><stop offset="0.6458" stop-color="#c30000"/><stop offset="0.6875" stop-color="#d70000"/><stop offset="0.7292" stop-color="#e60000"/><stop offset="0.7708" stop-color="#e9000d"/><stop offset="0.8125" stop-color="#ee000d"/><stop offset="0.8542" stop-color="#bf0012"/><stop offset="0.8958" stop-color="#bf0014"/><stop offset="0.9375" stop-color="#c40014"/><stop offset="0.9792" stop-color="#c10014"/></linearGradient><linearGradient id="g26" x1="163.5" x2="1836.0" y1="0" y2="0" gradientUnits="userSpaceOnUse"><stop offset="0.0208" stop-color="#c80014"/><stop offset="0.0625" stop-color="#b10014"/><stop offset="0.1042" stop-color="#98001b"/><stop offset="0.1458" stop-color="#8b001e"/><stop offset="0.1875" stop-color="#95001b"/><stop offset="0.2292" stop-color="#be0014"/><stop offset="0.2708" stop-color="#cc0012"/><stop offset="0.3125" stop-color="#c20000"/><stop offset="0.3542" stop-color="#c20000"/><stop offset="0.3958" stop-color="#c20000"/><stop offset="0.4375" stop-color="#c20000"/><stop offset="0.4792" stop-color="#c20000"/><stop offset="0.5208" stop-color="#c20000"/><stop offset="0.5625" stop-color="#c20000"/><stop offset="0.6042" stop-color="#c20000"/><stop offset="0.6458" stop-color="#c60000"/><stop offset="0.6875" stop-color="#da0000"/><stop offset="0.7292" stop-color="#e60000"/><stop offset="0.7708" stop-color="#e2000d"/><stop offset="0.8125" stop-color="#e5000d"/><stop offset="0.8542" stop-color="#c40012"/><stop offset="0.8958" stop-color="#c80014"/><stop offset="0.9375" stop-color="#c90014"/><stop offset="0.9792" stop-color="#c50014"/></linearGradient><linearGradient id="g27" x1="163.5" x2="1836.0" y1="0" y2="0" gradientUnits="userSpaceOnUse"><stop offset="0.0208" stop-color="#bf0014"/><stop offset="0.0625" stop-color="#aa0015"/><stop offset="0.1042" stop-color="#91001d"/><stop offset="0.1458" stop-color="#89001f"/><stop offset="0.1875" stop-color="#94001c"/><stop offset="0.2292" stop-color="#ba0014"/><stop offset="0.2708" stop-color="#cb0012"/><stop offset="0.3125" stop-color="#c20000"/><stop offset="0.3542" stop-color="#c20000"/><stop offset="0.3958" stop-color="#c20000"/><stop offset="0.4375" stop-color="#c20000"/><stop offset="0.4792" stop-color="#c20000"/><stop offset="0.5208" stop-color="#c20000"/><stop offset="0.5625" stop-color="#c20000"/><stop offset="0.6042" stop-color="#c20000"/><stop offset="0.6458" stop-color="#c90000"/><stop offset="0.6875" stop-color="#de0000"/><stop offset="0.7292" stop-color="#e90000"/><stop offset="0.7708" stop-color="#e0000c"/><stop offset="0.8125" stop-color="#df000c"/><stop offset="0.8542" stop-color="#cb0011"/><stop offset="0.8958" stop-color="#cd0014"/><stop offset="0.9375" stop-color="#c90015"/><stop offset="0.9792" stop-color="#c20015"/></linearGradient><linearGradient id="g28" x1="163.5" x2="1836.0" y1="0" y2="0" gradientUnits="userSpaceOnUse"><stop offset="0.0208" stop-color="#b00014"/><stop offset="0.0625" stop-color="#a40016"/><stop offset="0.1042" stop-color="#8c001e"/><stop offset="0.1458" stop-color="#88001f"/><stop offset="0.1875" stop-color="#94001c"/><stop offset="0.2292" stop-color="#b50014"/><stop offset="0.2708" stop-color="#c80012"/><stop offset="0.3125" stop-color="#c20000"/><stop offset="0.3542" stop-color="#c20000"/><stop offset="0.3958" stop-color="#c20000"/><stop offset="0.4375" stop-color="#c20000"/><stop offset="0.4792" stop-color="#c20000"/><stop offset="0.5208" stop-color="#c20000"/><stop offset="0.5625" stop-color="#c20000"/><stop offset="0.6042" stop-color="#c20000"/><stop offset="0.6458" stop-color="#cf0000"/><stop offset="0.6875" stop-color="#e30000"/><stop offset="0.7292" stop-color="#ef0000"/><stop offset="0.7708" stop-color="#e6000b"/><stop offset="0.8125" stop-color="#dd000b"/><stop offset="0.8542" stop-color="#d20010"/><stop offset="0.8958" stop-color="#d00014"/><stop offset="0.9375" stop-color="#c40016"/><stop offset="0.9792" stop-color="#b80016"/></linearGradient><linearGradient id="g29" x1="163.5" x2="1836.0" y1="0" y2="0" gradientUnits="userSpaceOnUse"><stop offset="0.0208" stop-color="#a70014"/><stop offset="0.0625" stop-color="#a00017"/><stop offset="0.1042" stop-color="#8b001f"/><stop offset="0.1458" stop-color="#88001e"/><stop offset="0.1875" stop-color="#95001b"/><stop offset="0.2292" stop-color="#b20014"/><stop offset="0.2708" stop-color="#c70012"/><stop offset="0.3125" stop-color="#c20000"/><stop offset="0.3542" stop-color="#c20000"/><stop offset="0.3958" stop-color="#c20000"/><stop offset="0.4375" stop-color="#c20000"/><stop offset="0.4792" stop-color="#c20000"/><stop offset="0.5208" stop-color="#c20000"/><stop offset="0.5625" stop-color="#c20000"/><stop offset="0.6042" stop-color="#c20000"/><stop offset="0.6458" stop-color="#d20000"/><stop offset="0.6875" stop-color="#e80000"/><stop offset="0.7292" stop-color="#f40000"/><stop offset="0.7708" stop-color="#ed000a"/><stop offset="0.8125" stop-color="#e4000a"/><stop offset="0.8542" stop-color="#d7000f"/><stop offset="0.8958" stop-color="#cc0014"/><stop offset="0.9375" stop-color="#bc0017"/><stop offset="0.9792" stop-color="#af0018"/></linearGradient><linearGradient id="g30" x1="163.5" x2="1836.0" y1="0" y2="0" gradientUnits="userSpaceOnUse"><stop offset="0.0208" stop-color="#a40014"/><stop offset="0.0625" stop-color="#9f0017"/><stop offset="0.1042" stop-color="#8e001f"/><stop offset="0.1458" stop-color="#8b001d"/><stop offset="0.1875" stop-color="#980018"/><stop offset="0.2292" stop-color="#b20014"/><stop offset="0.2708" stop-color="#c70012"/><stop offset="0.3125" stop-color="#c20000"/><stop offset="0.3542" stop-color="#c20000"/><stop offset="0.3958" stop-color="#c20000"/><stop offset="0.4375" stop-color="#c20000"/><stop offset="0.4792" stop-color="#c20000"/><stop offset="0.5208" stop-color="#c20000"/><stop offset="0.5625" stop-color="#c20000"/><stop offset="0.6042" stop-color="#c20000"/><stop offset="0.6458" stop-color="#d50000"/><stop offset="0.6875" stop-color="#ed0000"/><stop offset="0.7292" stop-color="#f80000"/><stop offset="0.7708" stop-color="#f70008"/><stop offset="0.8125" stop-color="#f60008"/><stop offset="0.8542" stop-color="#d8000f"/><stop offset="0.8958" stop-color="#c20014"/><stop offset="0.9375" stop-color="#b10017"/><stop offset="0.9792" stop-color="#a70019"/></linearGradient><linearGradient id="g31" x1="163.5" x2="1836.0" y1="0" y2="0" gradientUnits="userSpaceOnUse"><stop offset="0.0208" stop-color="#a40014"/><stop offset="0.0625" stop-color="#9f0016"/><stop offset="0.1042" stop-color="#91001d"/><stop offset="0.1458" stop-color="#8f001b"/><stop offset="0.1875" stop-color="#9b0016"/><stop offset="0.2292" stop-color="#b20014"/><stop offset="0.2708" stop-color="#c70012"/><stop offset="0.3125" stop-color="#c30000"/><stop offset="0.3542" stop-color="#c30000"/><stop offset="0.3958" stop-color="#c30000"/><stop offset="0.4375" stop-color="#c30000"/><stop offset="0.4792" stop-color="#c30000"/><stop offset="0.5208" stop-color="#c30000"/><stop offset="0.5625" stop-color="#c30000"/><stop offset="0.6042" stop-color="#c30000"/><stop offset="0.6458" stop-color="#d60000"/><stop offset="0.6875" stop-color="#f00000"/><stop offset="0.7292" stop-color="#fa0000"/><stop offset="0.7708" stop-color="#fc0008"/><stop offset="0.8125" stop-color="#fe0008"/><stop offset="0.8542" stop-color="#d3000f"/><stop offset="0.8958" stop-color="#ba0014"/><stop offset="0.9375" stop-color="#aa0017"/><stop offset="0.9792" stop-color="#a2001a"/></linearGradient><linearGradient id="g32" x1="163.5" x2="1836.0" y1="0" y2="0" gradientUnits="userSpaceOnUse"><stop offset="0.0208" stop-color="#a70014"/><stop offset="0.0625" stop-color="#a20015"/><stop offset="0.1042" stop-color="#960019"/><stop offset="0.1458" stop-color="#940018"/><stop offset="0.1875" stop-color="#9f0015"/><stop offset="0.2292" stop-color="#b20014"/><stop offset="0.2708" stop-color="#c70012"/><stop offset="0.3125" stop-color="#c60000"/><stop offset="0.3542" stop-color="#c60000"/><stop offset="0.3958" stop-color="#c60000"/><stop offset="0.4375" stop-color="#c60000"/><stop offset="0.4792" stop-color="#c60000"/><stop offset="0.5208" stop-color="#c60000"/><stop offset="0.5625" stop-color="#c60000"/><stop offset="0.6042" stop-color="#c60000"/><stop offset="0.6458" stop-color="#d60000"/><stop offset="0.6875" stop-color="#f00000"/><stop offset="0.7292" stop-color="#fa0000"/><stop offset="0.7708" stop-color="#fc0008"/><stop offset="0.8125" stop-color="#fb0008"/><stop offset="0.8542" stop-color="#c8000f"/><stop offset="0.8958" stop-color="#b30014"/><stop offset="0.9375" stop-color="#a90017"/><stop offset="0.9792" stop-color="#9f001a"/></linearGradient><linearGradient id="g33" x1="163.5" x2="1836.0" y1="0" y2="0" gradientUnits="userSpaceOnUse"><stop offset="0.0208" stop-color="#a90014"/><stop offset="0.0625" stop-color="#a40014"/><stop offset="0.1042" stop-color="#9c0016"/><stop offset="0.1458" stop-color="#990016"/><stop offset="0.1875" stop-color="#a30014"/><stop offset="0.2292" stop-color="#b40014"/><stop offset="0.2708" stop-color="#c80012"/><stop offset="0.3125" stop-color="#c80000"/><stop offset="0.3542" stop-color="#c80000"/><stop offset="0.3958" stop-color="#c80000"/><stop offset="0.4375" stop-color="#c80000"/><stop offset="0.4792" stop-color="#c80000"/><stop offset="0.5208" stop-color="#c80000"/><stop offset="0.5625" stop-color="#c80000"/><stop offset="0.6042" stop-color="#c80000"/><stop offset="0.6458" stop-color="#d70000"/><stop offset="0.6875" stop-color="#ee0000"/><stop offset="0.7292" stop-color="#f80000"/><stop offset="0.7708" stop-color="#fa0008"/><stop offset="0.8125" stop-color="#f60008"/><stop offset="0.8542" stop-color="#c4000f"/><stop offset="0.8958" stop-color="#b00014"/><stop offset="0.9375" stop-color="#a90016"/><stop offset="0.9792" stop-color="#a00019"/></linearGradient><linearGradient id="g34" x1="163.5" x2="1836.0" y1="0" y2="0" gradientUnits="userSpaceOnUse"><stop offset="0.0208" stop-color="#aa0012"/><stop offset="0.0625" stop-color="#a50012"/><stop offset="0.1042" stop-color="#a10013"/><stop offset="0.1458" stop-color="#9e0013"/><stop offset="0.1875" stop-color="#a60012"/><stop offset="0.2292" stop-color="#b60012"/><stop offset="0.2708" stop-color="#cb0012"/><stop offset="0.3125" stop-color="#cb0000"/><stop offset="0.3542" stop-color="#cb0000"/><stop offset="0.3958" stop-color="#cb0000"/><stop offset="0.4375" stop-color="#cb0000"/><stop offset="0.4792" stop-color="#cb0000"/><stop offset="0.5208" stop-color="#cb0000"/><stop offset="0.5625" stop-color="#cb0000"/><stop offset="0.6042" stop-color="#cb0000"/><stop offset="0.6458" stop-color="#da0000"/><stop offset="0.6875" stop-color="#ec0000"/><stop offset="0.7292" stop-color="#f40000"/><stop offset="0.7708" stop-color="#f50008"/><stop offset="0.8125" stop-color="#ee0008"/><stop offset="0.8542" stop-color="#c8000f"/><stop offset="0.8958" stop-color="#b00012"/><stop offset="0.9375" stop-color="#aa0015"/><stop offset="0.9792" stop-color="#a40018"/></linearGradient><linearGradient id="g35" x1="163.5" x2="1836.0" y1="0" y2="0" gradientUnits="userSpaceOnUse"><stop offset="0.0208" stop-color="#b10011"/><stop offset="0.0625" stop-color="#ad0011"/><stop offset="0.1042" stop-color="#ac0011"/><stop offset="0.1458" stop-color="#ab0011"/><stop offset="0.1875" stop-color="#b20011"/><stop offset="0.2292" stop-color="#bf0011"/><stop offset="0.2708" stop-color="#d00011"/><stop offset="0.3125" stop-color="#d00003"/><stop offset="0.3542" stop-color="#d10003"/><stop offset="0.3958" stop-color="#d10003"/><stop offset="0.4375" stop-color="#d10003"/><stop offset="0.4792" stop-color="#d10003"/><stop offset="0.5208" stop-color="#d10003"/><stop offset="0.5625" stop-color="#d10003"/><stop offset="0.6042" stop-color="#d10003"/><stop offset="0.6458" stop-color="#dd0003"/><stop offset="0.6875" stop-color="#e90003"/><stop offset="0.7292" stop-color="#f00003"/><stop offset="0.7708" stop-color="#f10008"/><stop offset="0.8125" stop-color="#ea0008"/><stop offset="0.8542" stop-color="#cf000f"/><stop offset="0.8958" stop-color="#b40011"/><stop offset="0.9375" stop-color="#af0013"/><stop offset="0.9792" stop-color="#aa0015"/></linearGradient><linearGradient id="g36" x1="163.5" x2="1836.0" y1="0" y2="0" gradientUnits="userSpaceOnUse"><stop offset="0.0208" stop-color="#bc0010"/><stop offset="0.0625" stop-color="#bb0010"/><stop offset="0.1042" stop-color="#be0010"/><stop offset="0.1458" stop-color="#c10010"/><stop offset="0.1875" stop-color="#c70010"/><stop offset="0.2292" stop-color="#cf0010"/><stop offset="0.2708" stop-color="#d70010"/><stop offset="0.3125" stop-color="#d70008"/><stop offset="0.3542" stop-color="#db0008"/><stop offset="0.3958" stop-color="#db0008"/><stop offset="0.4375" stop-color="#db0008"/><stop offset="0.4792" stop-color="#db0008"/><stop offset="0.5208" stop-color="#db0008"/><stop offset="0.5625" stop-color="#db0008"/><stop offset="0.6042" stop-color="#db0008"/><stop offset="0.6458" stop-color="#df0008"/><stop offset="0.6875" stop-color="#e70008"/><stop offset="0.7292" stop-color="#ed0008"/><stop offset="0.7708" stop-color="#ee000a"/><stop offset="0.8125" stop-color="#e9000a"/><stop offset="0.8542" stop-color="#d9000d"/><stop offset="0.8958" stop-color="#bb0010"/><stop offset="0.9375" stop-color="#b60011"/><stop offset="0.9792" stop-color="#b10011"/></linearGradient><linearGradient id="g37" x1="163.5" x2="1836.0" y1="0" y2="0" gradientUnits="userSpaceOnUse"><stop offset="0.0208" stop-color="#c9000d"/><stop offset="0.0625" stop-color="#ca000d"/><stop offset="0.1042" stop-color="#cf000d"/><stop offset="0.1458" stop-color="#d2000d"/><stop offset="0.1875" stop-color="#d7000d"/><stop offset="0.2292" stop-color="#db000d"/><stop offset="0.2708" stop-color="#de000d"/><stop offset="0.3125" stop-color="#de000a"/><stop offset="0.3542" stop-color="#e2000a"/><stop offset="0.3958" stop-color="#e2000a"/><stop offset="0.4375" stop-color="#e2000a"/><stop offset="0.4792" stop-color="#e2000a"/><stop offset="0.5208" stop-color="#e2000a"/><stop offset="0.5625" stop-color="#e2000a"/><stop offset="0.6042" stop-color="#e2000a"/><stop offset="0.6458" stop-color="#e2000a"/><stop offset="0.6875" stop-color="#e6000a"/><stop offset="0.7292" stop-color="#eb000a"/><stop offset="0.7708" stop-color="#ed000a"/><stop offset="0.8125" stop-color="#e9000a"/><stop offset="0.8542" stop-color="#e0000b"/><stop offset="0.8958" stop-color="#c7000d"/><stop offset="0.9375" stop-color="#c2000d"/><stop offset="0.9792" stop-color="#bd000d"/></linearGradient><linearGradient id="g38" x1="163.5" x2="1836.0" y1="0" y2="0" gradientUnits="userSpaceOnUse"><stop offset="0.0208" stop-color="#d9000a"/><stop offset="0.0625" stop-color="#db000a"/><stop offset="0.1042" stop-color="#de000a"/><stop offset="0.1458" stop-color="#df000a"/><stop offset="0.1875" stop-color="#e2000a"/><stop offset="0.2292" stop-color="#e4000a"/><stop offset="0.2708" stop-color="#e5000a"/><stop offset="0.3125" stop-color="#e30008"/><stop offset="0.3542" stop-color="#e40008"/><stop offset="0.3958" stop-color="#e40008"/><stop offset="0.4375" stop-color="#e40008"/><stop offset="0.4792" stop-color="#e40008"/><stop offset="0.5208" stop-color="#e40008"/><stop offset="0.5625" stop-color="#e40008"/><stop offset="0.6042" stop-color="#e40008"/><stop offset="0.6458" stop-color="#e40008"/><stop offset="0.6875" stop-color="#e60008"/><stop offset="0.7292" stop-color="#eb0008"/><stop offset="0.7708" stop-color="#ed0008"/><stop offset="0.8125" stop-color="#ec0008"/><stop offset="0.8542" stop-color="#e60009"/><stop offset="0.8958" stop-color="#d6000a"/><stop offset="0.9375" stop-color="#d1000a"/><stop offset="0.9792" stop-color="#cc000a"/></linearGradient><linearGradient id="g39" x1="163.5" x2="1836.0" y1="0" y2="0" gradientUnits="userSpaceOnUse"><stop offset="0.0208" stop-color="#e00008"/><stop offset="0.0625" stop-color="#e30008"/><stop offset="0.1042" stop-color="#e60008"/><stop offset="0.1458" stop-color="#e60008"/><stop offset="0.1875" stop-color="#e80008"/><stop offset="0.2292" stop-color="#e80008"/><stop offset="0.2708" stop-color="#e80008"/><stop offset="0.3125" stop-color="#e60008"/><stop offset="0.3542" stop-color="#e60008"/><stop offset="0.3958" stop-color="#e60008"/><stop offset="0.4375" stop-color="#e60008"/><stop offset="0.4792" stop-color="#e60008"/><stop offset="0.5208" stop-color="#e60008"/><stop offset="0.5625" stop-color="#e60008"/><stop offset="0.6042" stop-color="#e60008"/><stop offset="0.6458" stop-color="#e60008"/><stop offset="0.6875" stop-color="#e60008"/><stop offset="0.7292" stop-color="#eb0008"/><stop offset="0.7708" stop-color="#ed0008"/><stop offset="0.8125" stop-color="#ed0008"/><stop offset="0.8542" stop-color="#e80008"/><stop offset="0.8958" stop-color="#de0008"/><stop offset="0.9375" stop-color="#d90008"/><stop offset="0.9792" stop-color="#d40008"/></linearGradient>
<filter id="bl1" x="-50%" y="-50%" width="200%" height="200%"><feGaussianBlur stdDeviation="1"/></filter>
<filter id="bl3" x="-50%" y="-50%" width="200%" height="200%"><feGaussianBlur stdDeviation="3"/></filter>
<filter id="bl4" x="-50%" y="-50%" width="200%" height="200%"><feGaussianBlur stdDeviation="4"/></filter>
<filter id="bl6" x="-50%" y="-50%" width="200%" height="200%"><feGaussianBlur stdDeviation="6"/></filter>
<filter id="bl8" x="-50%" y="-50%" width="200%" height="200%"><feGaussianBlur stdDeviation="8"/></filter>
<filter id="bl12" x="-50%" y="-50%" width="200%" height="200%"><feGaussianBlur stdDeviation="12"/></filter>
<filter id="cm" x="83.5" y="687.6" width="1832.5" height="693.6" filterUnits="userSpaceOnUse" color-interpolation-filters="sRGB">
<feGaussianBlur in="SourceGraphic" stdDeviation="2 4" result="F"/>
<feTurbulence type="fractalNoise" baseFrequency="0.55 0.3" numOctaves="3" seed="4" result="t1"/>
<feColorMatrix in="t1" type="matrix" values="1 0 0 0 0  1 0 0 0 0  1 0 0 0 0  0 0 0 0 1" result="t1g"/>
<feComponentTransfer in="t1g" result="n1"><feFuncR type="linear" slope="3.2" intercept="-1.1"/><feFuncG type="linear" slope="3.2" intercept="-1.1"/><feFuncB type="linear" slope="3.2" intercept="-1.1"/></feComponentTransfer>
<feTurbulence type="fractalNoise" baseFrequency="0.05 0.4" numOctaves="2" seed="9" result="t2"/>
<feTurbulence type="fractalNoise" baseFrequency="0.004" numOctaves="1" seed="2" result="dm"/>
<feDisplacementMap in="t2" in2="dm" scale="120" xChannelSelector="R" yChannelSelector="G" result="t2d"/>
<feColorMatrix in="t2d" type="matrix" values="1 0 0 0 0  1 0 0 0 0  1 0 0 0 0  0 0 0 0 1" result="t2g"/>
<feComponentTransfer in="t2g" result="n2"><feFuncR type="linear" slope="4" intercept="-1.5"/><feFuncG type="linear" slope="4" intercept="-1.5"/><feFuncB type="linear" slope="4" intercept="-1.5"/></feComponentTransfer>
<feComposite in="F" in2="n1" operator="arithmetic" k1="1" k2="0" k3="0" k4="0" result="T1"/>
<feComposite in="F" in2="n2" operator="arithmetic" k1="1" k2="0" k3="0" k4="0" result="T2"/>
<feColorMatrix in="F" type="matrix" values="0.3333 -0.1667 -0.1667 0 0.1667  0 0 0 0 0  0 0 0 0 0  0 0 0 0 1" result="U"/>
<feColorMatrix in="T1" type="matrix" values="0 0.3333 0 0 0  0 0 0 0 0  0 0 0 0 0  0 0 0 0 1" result="V1"/>
<feColorMatrix in="T2" type="matrix" values="0 0 0.3333 0 0  0 0 0 0 0  0 0 0 0 0  0 0 0 0 1" result="V2"/>
<feComposite in="U" in2="V1" operator="arithmetic" k1="0" k2="1" k3="1" k4="0" result="W1"/>
<feComposite in="W1" in2="V2" operator="arithmetic" k1="0" k2="3" k3="3" k4="-0.5" result="W2"/>
<feColorMatrix in="W2" type="matrix" values="1 0 0 0 0  1 0 0 0 0  1 0 0 0 0  0 0 0 0 1" result="X"/>
<feComponentTransfer in="X"><feFuncR type="table" tableValues="0.000 0.000 0.000 0.000 0.000 0.000 0.000 0.000 0.000 0.000 0.000 0.000 0.000 0.000 0.000 0.000 0.000 0.000 0.000 0.000 0.000 0.000 0.000 0.000 0.000 0.000 0.000 0.000 0.000 0.001 0.006 0.011 0.016 0.021 0.025 0.030 0.031 0.031 0.031 0.031 0.031 0.031 0.034 0.036 0.039 0.052 0.068 0.084 0.107 0.149 0.191 0.237 0.313 0.389 0.466 0.542 0.603 0.657 0.712 0.766 0.817 0.850 0.883 0.916 0.949"/><feFuncG type="table" tableValues="0.000 0.001 0.001 0.002 0.002 0.003 0.003 0.004 0.004 0.006 0.007 0.009 0.011 0.012 0.014 0.016 0.017 0.019 0.022 0.025 0.028 0.031 0.035 0.039 0.043 0.047 0.058 0.068 0.078 0.092 0.122 0.151 0.180 0.210 0.239 0.269 0.297 0.324 0.350 0.372 0.395 0.417 0.441 0.466 0.490 0.511 0.531 0.551 0.572 0.594 0.616 0.639 0.673 0.707 0.741 0.774 0.803 0.828 0.854 0.880 0.905 0.923 0.941 0.959 0.976"/><feFuncB type="table" tableValues="0.000 0.012 0.025 0.037 0.049 0.061 0.074 0.086 0.100 0.120 0.140 0.160 0.180 0.201 0.228 0.254 0.280 0.306 0.337 0.370 0.403 0.435 0.473 0.512 0.551 0.590 0.631 0.672 0.712 0.748 0.760 0.772 0.784 0.790 0.797 0.803 0.808 0.812 0.820 0.837 0.854 0.871 0.894 0.916 0.938 0.955 0.972 0.989 1.000 1.000 1.000 1.000 1.000 1.000 1.000 1.000 1.000 1.000 1.000 1.000 1.000 1.000 1.000 1.000 1.000"/><feFuncA type="linear" slope="0" intercept="1"/></feComponentTransfer>
</filter>
<clipPath id="cpS"><rect x="163.5" y="767.6" width="1672.5" height="533.6"/></clipPath></defs><g clip-path="url(#cpS)"><g filter="url(#cm)"><rect x="73.5" y="677.6" width="1852.5" height="91" fill="url(#g0)"/><rect x="73.5" y="767.10" width="1852.5" height="14.34" fill="url(#g0)"/><rect x="73.5" y="780.44" width="1852.5" height="14.34" fill="url(#g1)"/><rect x="73.5" y="793.78" width="1852.5" height="14.34" fill="url(#g2)"/><rect x="73.5" y="807.12" width="1852.5" height="14.34" fill="url(#g3)"/><rect x="73.5" y="820.46" width="1852.5" height="14.34" fill="url(#g4)"/><rect x="73.5" y="833.80" width="1852.5" height="14.34" fill="url(#g5)"/><rect x="73.5" y="847.14" width="1852.5" height="14.34" fill="url(#g6)"/><rect x="73.5" y="860.48" width="1852.5" height="14.34" fill="url(#g7)"/><rect x="73.5" y="873.82" width="1852.5" height="14.34" fill="url(#g8)"/><rect x="73.5" y="887.16" width="1852.5" height="14.34" fill="url(#g9)"/><rect x="73.5" y="900.50" width="1852.5" height="14.34" fill="url(#g10)"/><rect x="73.5" y="913.84" width="1852.5" height="14.34" fill="url(#g11)"/><rect x="73.5" y="927.18" width="1852.5" height="14.34" fill="url(#g12)"/><rect x="73.5" y="940.52" width="1852.5" height="14.34" fill="url(#g13)"/><rect x="73.5" y="953.86" width="1852.5" height="14.34" fill="url(#g14)"/><rect x="73.5" y="967.20" width="1852.5" height="14.34" fill="url(#g15)"/><rect x="73.5" y="980.54" width="1852.5" height="14.34" fill="url(#g16)"/><rect x="73.5" y="993.88" width="1852.5" height="14.34" fill="url(#g17)"/><rect x="73.5" y="1007.22" width="1852.5" height="14.34" fill="url(#g18)"/><rect x="73.5" y="1020.56" width="1852.5" height="14.34" fill="url(#g19)"/><rect x="73.5" y="1033.90" width="1852.5" height="14.34" fill="url(#g20)"/><rect x="73.5" y="1047.24" width="1852.5" height="14.34" fill="url(#g21)"/><rect x="73.5" y="1060.58" width="1852.5" height="14.34" fill="url(#g22)"/><rect x="73.5" y="1073.92" width="1852.5" height="14.34" fill="url(#g23)"/><rect x="73.5" y="1087.26" width="1852.5" height="14.34" fill="url(#g24)"/><rect x="73.5" y="1100.60" width="1852.5" height="14.34" fill="url(#g25)"/><rect x="73.5" y="1113.94" width="1852.5" height="14.34" fill="url(#g26)"/><rect x="73.5" y="1127.28" width="1852.5" height="14.34" fill="url(#g27)"/><rect x="73.5" y="1140.62" width="1852.5" height="14.34" fill="url(#g28)"/><rect x="73.5" y="1153.96" width="1852.5" height="14.34" fill="url(#g29)"/><rect x="73.5" y="1167.30" width="1852.5" height="14.34" fill="url(#g30)"/><rect x="73.5" y="1180.64" width="1852.5" height="14.34" fill="url(#g31)"/><rect x="73.5" y="1193.98" width="1852.5" height="14.34" fill="url(#g32)"/><rect x="73.5" y="1207.32" width="1852.5" height="14.34" fill="url(#g33)"/><rect x="73.5" y="1220.66" width="1852.5" height="14.34" fill="url(#g34)"/><rect x="73.5" y="1234.00" width="1852.5" height="14.34" fill="url(#g35)"/><rect x="73.5" y="1247.34" width="1852.5" height="14.34" fill="url(#g36)"/><rect x="73.5" y="1260.68" width="1852.5" height="14.34" fill="url(#g37)"/><rect x="73.5" y="1274.02" width="1852.5" height="14.34" fill="url(#g38)"/><rect x="73.5" y="1287.36" width="1852.5" height="14.34" fill="url(#g39)"/><rect x="73.5" y="1300.2" width="1852.5" height="91" fill="url(#g39)"/><ellipse cx="200" cy="1110" rx="45" ry="19" fill="#db000f" filter="url(#bl8)"/><ellipse cx="1478" cy="1102" rx="68" ry="9" fill="#ff0000" filter="url(#bl4)"/><ellipse cx="1466" cy="1208" rx="84" ry="45" fill="#ff0000" filter="url(#bl12)"/><path d="M1440,1168 C1520,1162 1600,1154 1660,1148 L1690,1146 L1692,1160 C1650,1170 1600,1184 1540,1200 L1440,1215 Z" fill="#ff0000" filter="url(#bl6)"/><path d="M1680,1146 C1700,1143 1720,1139 1740,1134 L1742,1142 C1720,1148 1700,1153 1680,1158 Z" fill="#db000d" filter="url(#bl6)"/><path d="M1419,1095 L1412,1112 L1405,1141 L1395,1163 L1383,1180 L1372,1194 L1352,1215 L1335,1229 L1316,1239" fill="none" stroke="#d60000" stroke-width="26" filter="url(#bl6)"/><path d="M519,760 L630,760 L630,822 L590,822 C565,815 537,795 519,767 Z" fill="#4c0000"/><path d="M1440,760 L1590,760 C1560,800 1520,825 1440,828 Z" fill="#1a0000"/></g><path d="M510.6,1139.1L516.3,1140.6M253.5,1179.8L258.4,1180.5M334.9,1119.9L342.1,1121.2M208.4,1120.1L216.0,1121.3M459.9,1127.5L466.9,1129.8M332.1,1175.8L335.5,1176.6M464.6,1200.0L468.4,1201.2M378.4,1119.6L384.5,1121.6M317.3,1142.9L320.7,1143.6M463.9,1109.8L471.3,1112.6M510.4,1152.8L515.6,1154.9M415.8,1155.0L424.1,1157.0M476.6,1069.4L479.6,1070.7M387.3,1150.4L390.5,1151.3M460.1,1118.3L464.8,1120.4M541.6,1091.6L545.7,1093.3M438.6,1173.5L444.3,1175.9M572.6,1125.6L579.9,1128.1M285.2,1151.2L290.4,1152.1M484.8,1148.5L490.0,1150.3M380.5,1106.8L385.0,1108.3M336.3,1126.2L342.2,1128.3M536.5,1153.1L540.1,1154.8M432.2,1157.1L440.2,1159.4M316.0,1099.0L322.2,1100.5M578.2,1064.8L584.6,1067.7M234.8,1077.7L239.4,1078.9M289.1,1185.8L292.6,1186.7M390.4,1135.9L395.0,1136.9M592.8,1239.2L600.1,1241.4M383.2,1194.3L388.9,1195.4M462.7,1214.1L469.2,1216.2M555.0,1120.1L560.3,1122.0M410.5,1202.6L414.6,1204.1M572.4,1176.7L575.7,1178.2M542.1,1181.2L546.6,1182.7M396.1,1103.2L399.8,1104.4M524.7,1144.9L528.4,1146.3M577.6,1191.1L585.4,1194.0M392.2,1141.7L399.1,1143.2M360.2,1227.0L363.5,1228.2M457.8,1079.5L463.6,1081.5M347.5,1095.2L352.6,1096.1M468.8,1218.6L475.8,1221.4M381.1,1161.4L387.0,1162.5M473.5,1158.7L476.6,1160.0M586.7,1112.2L591.5,1114.0M615.4,1141.7L620.7,1143.6M545.5,1215.5L552.1,1217.4M242.1,1173.7L248.3,1174.6M306.2,1148.9L311.7,1150.3M529.6,1078.7L534.4,1080.5M322.6,1110.3L328.0,1112.4M386.6,1106.6L394.7,1108.6M443.2,1164.3L450.8,1166.1M492.6,1136.3L497.9,1138.9M583.7,1157.1L590.4,1160.8M405.8,1202.9L410.0,1204.3M504.3,1137.1L509.8,1139.5M310.3,1213.9L318.6,1215.2M583.3,1237.6L587.1,1239.0M626.8,1148.9L629.8,1150.3M566.3,1139.5L570.2,1140.9M587.1,1173.4L592.1,1175.5M458.1,1087.5L462.0,1088.6M543.5,1235.8L546.6,1236.8M436.3,1224.0L444.0,1226.1M193.8,1100.8L197.0,1101.6M511.6,1112.5L519.4,1114.6M417.1,1189.8L422.7,1191.8M518.2,1173.2L526.7,1176.1M383.0,1187.6L389.8,1189.9M562.5,1165.5L568.7,1168.0M473.2,1190.0L476.6,1191.5M425.7,1125.1L432.1,1127.8M384.1,1072.7L390.0,1074.8M612.5,1145.3L619.9,1149.0M555.3,1195.5L562.0,1198.9M418.6,1144.4L425.8,1146.0M262.1,1159.5L266.2,1160.8M364.9,1138.2L368.7,1139.5M441.6,1202.2L449.1,1204.4M473.3,1233.6L481.3,1236.2M301.6,1163.0L304.8,1163.5M403.6,1131.4L407.4,1132.4M461.9,1199.5L469.4,1202.9M392.4,1123.4L397.1,1124.9M474.9,1114.0L483.2,1116.3M515.2,1144.4L522.6,1147.1M306.2,1137.1L311.1,1138.2M448.3,1203.9L452.7,1205.6M399.6,1143.3L406.8,1145.3M413.7,1085.0L417.3,1086.3" stroke="#03196a" stroke-width="2" stroke-opacity="0.45" stroke-linecap="round" fill="none"/><path d="M284,1081 C300,1077 330,1074 366,1072" stroke="#b8dcff" stroke-width="6" stroke-opacity="0.85" fill="none" filter="url(#bl3)"/><path d="M1440,767 L1592,767 C1572,795 1540,815 1500,822 C1480,826 1460,827 1440,827 Z" fill="#000" filter="url(#bl1)"/><path d="M1440,767 L1569,767 C1560,776 1551,784 1543,788 C1530,797 1510,804 1486,809 C1470,811 1455,813 1440,814 Z" fill="#00064f" filter="url(#bl1)"/><path d="M543,767 L630,767 L630,808 L595,804 C568,795 552,781 543,767 Z" fill="#00064c" filter="url(#bl1)"/><path d="M521,767 L543,767 C552,781 568,795 595,804 L628,808 L628,815 L590,818 C565,811 537,792 521,767 Z" fill="#1474e6" filter="url(#bl1)"/><path d="M560,810 C580,816 600,818 628,816" fill="none" stroke="#0a48c0" stroke-width="6" filter="url(#bl3)"/><path d="M626,767 L628,820 L632,880 L636,926 L640,980 L646,1035 L652,1087 L660,1112 L670,1141 L682,1167 L698,1194 L714,1214 L742,1229 L766,1238 L790,1246 L841,1257.5 L870,1261 L925,1264 L960,1265 L1000,1266 L1100,1265.5 L1200,1264 L1228,1257 L1250,1252 L1290,1246 L1316,1239 L1335,1229 L1352,1215 L1372,1194 L1383,1180 L1395,1163 L1405,1141 L1412,1112 L1419,1088 L1423,1060 L1428,1035 L1433,980 L1440,900 L1444,820 L1446,767 Z" fill="#000"/><path d="M797,1279 C808,1270 822,1264 841,1261 L925,1262 L1000,1264 L1000,1268.5 L925,1268.5 C880,1270 835,1273 797,1279 Z" fill="#000"/><path d="M1277,1279.4 C1268,1270 1250,1262 1228,1258 L1150,1262 L1100,1264 L1100,1268 C1160,1268 1235,1270 1277,1279.4 Z" fill="#000"/><path d="M658.2,1098.9 L658.2,1101.1 L644.7,1101.2Z M659.8,1104.0 L659.8,1106.3 L648.6,1106.1Z M661.4,1109.0 L661.4,1111.3 L643.7,1111.7Z M663.2,1114.3 L663.2,1116.7 L652.5,1116.4Z M664.8,1119.1 L664.8,1121.5 L654.0,1121.1Z M666.6,1124.0 L666.6,1126.4 L655.0,1126.2Z M668.3,1128.9 L668.3,1131.4 L649.4,1131.9Z M669.9,1133.7 L669.9,1136.3 L649.7,1136.8Z M671.7,1138.8 L671.7,1141.4 L656.6,1141.4Z M673.9,1143.8 L673.9,1146.5 L655.1,1146.8Z M676.2,1148.7 L676.2,1151.4 L655.6,1151.9Z M678.6,1153.8 L678.6,1156.6 L654.8,1157.4Z M680.7,1158.5 L680.7,1161.3 L654.3,1162.4Z M683.1,1163.7 L683.1,1166.6 L657.2,1167.5Z M685.7,1168.5 L685.7,1171.4 L657.2,1172.6Z M688.9,1173.8 L688.9,1176.8 L652.4,1178.7Z M692.0,1178.9 L692.0,1181.9 L654.1,1184.0Z M695.1,1184.2 L695.1,1187.2 L660.3,1189.0Z M697.8,1188.8 L697.8,1191.9 L658.3,1194.1Z M701.1,1193.8 L701.1,1197.0 L662.2,1199.1Z M705.0,1198.6 L705.0,1201.8 L663.3,1204.2Z M708.9,1203.5 L708.9,1206.8 L666.3,1209.2Z M712.8,1208.3 L712.8,1211.7 L665.9,1214.5Z M718.4,1213.6 L718.4,1217.0 L667.6,1220.2Z M727.4,1218.4 L727.4,1221.8 L677.1,1224.9Z M736.7,1223.3 L736.7,1226.8 L684.5,1230.1Z M746.3,1228.1 L746.3,1231.6 L688.4,1235.4Z M758.7,1232.7 L758.7,1236.3 L698.5,1240.3Z M772.2,1237.6 L772.2,1241.2 L707.0,1245.7Z M787.8,1242.8 L787.8,1246.4 L719.8,1251.2Z M808.6,1247.9 L808.6,1251.6 L740.7,1256.3Z M831.4,1253.0 L831.4,1256.8 L760.7,1261.8Z M1415.8,1091.0 L1415.8,1093.0 L1431.7,1094.8Z M1414.3,1096.1 L1414.3,1098.2 L1427.8,1099.5Z M1412.9,1101.1 L1412.9,1103.2 L1438.2,1106.8Z M1411.4,1106.0 L1411.4,1108.2 L1434.4,1111.3Z M1409.9,1111.3 L1409.9,1113.6 L1434.4,1117.0Z M1408.6,1116.5 L1408.6,1118.8 L1432.9,1122.1Z M1407.5,1121.3 L1407.5,1123.7 L1426.6,1125.9Z M1406.3,1126.2 L1406.3,1128.6 L1427.6,1131.3Z M1405.1,1131.1 L1405.1,1133.6 L1427.4,1136.4Z M1403.8,1136.3 L1403.8,1138.8 L1428.2,1142.0Z M1402.0,1141.8 L1402.0,1144.4 L1433.8,1149.1Z M1399.7,1147.0 L1399.7,1149.7 L1433.2,1154.7Z M1397.4,1152.0 L1397.4,1154.7 L1435.0,1160.5Z M1394.9,1157.5 L1394.9,1160.2 L1431.6,1165.8Z M1392.3,1162.6 L1392.3,1165.4 L1431.9,1171.6Z M1388.5,1168.0 L1388.5,1170.9 L1427.5,1176.8Z M1384.6,1173.5 L1384.6,1176.4 L1424.9,1182.6Z M1381.0,1178.5 L1381.0,1181.6 L1421.9,1187.8Z M1377.1,1183.5 L1377.1,1186.5 L1415.2,1192.2Z M1372.8,1188.8 L1372.8,1191.9 L1419.7,1199.4Z M1368.1,1194.4 L1368.1,1197.6 L1417.6,1205.5Z M1363.1,1199.6 L1363.1,1202.8 L1405.1,1209.2Z M1358.2,1204.7 L1358.2,1208.0 L1411.9,1216.7Z M1353.0,1210.1 L1353.0,1213.5 L1403.1,1221.4Z M1347.6,1215.3 L1347.6,1218.7 L1396.2,1226.3Z M1341.6,1220.2 L1341.6,1223.7 L1390.1,1231.2Z M1334.9,1225.7 L1334.9,1229.2 L1392.0,1238.5Z M1326.6,1230.6 L1326.6,1234.2 L1382.6,1243.2Z M1317.4,1235.4 L1317.4,1239.0 L1372.6,1247.8Z M1300.7,1240.7 L1300.7,1244.4 L1363.0,1254.6Z M1276.2,1245.9 L1276.2,1249.7 L1335.8,1259.3Z" fill="#000820" fill-opacity="0.9"/><line x1="900" y1="1294" x2="1046" y2="1269" stroke="#000" stroke-width="1.2"/><line x1="925" y1="1294" x2="1046" y2="1269" stroke="#000" stroke-width="1.3"/><line x1="948" y1="1294" x2="1046" y2="1269" stroke="#000" stroke-width="1.5"/><line x1="968" y1="1294" x2="1046" y2="1269" stroke="#000" stroke-width="1.8"/><line x1="985" y1="1294" x2="1046" y2="1269" stroke="#000" stroke-width="2.2"/><line x1="1003" y1="1294" x2="1046" y2="1269" stroke="#000" stroke-width="2.5"/><line x1="1020" y1="1294" x2="1046" y2="1269" stroke="#000" stroke-width="2.8"/><line x1="1034" y1="1294" x2="1046" y2="1269" stroke="#000" stroke-width="2.6"/><path d="M1047,1273 L1047,1294 L1066,1294 Z" fill="#000"/><rect x="163.5" y="1293.6" width="1672.5" height="1.6" fill="#60b8f0"/><rect x="163.5" y="1295.2" width="1672.5" height="6.0" fill="#0a0508"/></g>
<g stroke="#000" fill="none"><line x1="163.5" y1="767.6" x2="163.5" y2="1301.2" stroke-width="1.6"/><line x1="1836.0" y1="767.6" x2="1836.0" y2="1301.2" stroke-width="1.6"/><line x1="162.7" y1="767.6" x2="1836.8" y2="767.6" stroke-width="1.3"/><line x1="162.7" y1="1301.2" x2="1836.8" y2="1301.2" stroke-width="1.3"/></g><g stroke="#fff" stroke-width="3.2" stroke-dasharray="3.9 7.12" fill="none"><line x1="163.50" y1="767.60" x2="163.50" y2="1301.20" stroke-dashoffset="-1.4"/><line x1="233.19" y1="767.60" x2="233.19" y2="1301.20" stroke-dashoffset="-1.4"/><line x1="302.88" y1="767.60" x2="302.88" y2="1301.20" stroke-dashoffset="-1.4"/><line x1="372.56" y1="767.60" x2="372.56" y2="1301.20" stroke-dashoffset="-1.4"/><line x1="442.25" y1="767.60" x2="442.25" y2="1301.20" stroke-dashoffset="-1.4"/><line x1="511.94" y1="767.60" x2="511.94" y2="1301.20" stroke-dashoffset="-1.4"/><line x1="581.62" y1="767.60" x2="581.62" y2="1301.20" stroke-dashoffset="-1.4"/><line x1="651.31" y1="767.60" x2="651.31" y2="1301.20" stroke-dashoffset="-1.4"/><line x1="721.00" y1="767.60" x2="721.00" y2="1301.20" stroke-dashoffset="-1.4"/><line x1="790.69" y1="767.60" x2="790.69" y2="1301.20" stroke-dashoffset="-1.4"/><line x1="860.38" y1="767.60" x2="860.38" y2="1301.20" stroke-dashoffset="-1.4"/><line x1="930.06" y1="767.60" x2="930.06" y2="1301.20" stroke-dashoffset="-1.4"/><line x1="999.75" y1="767.60" x2="999.75" y2="1301.20" stroke-dashoffset="-1.4"/><line x1="1069.44" y1="767.60" x2="1069.44" y2="1301.20" stroke-dashoffset="-1.4"/><line x1="1139.12" y1="767.60" x2="1139.12" y2="1301.20" stroke-dashoffset="-1.4"/><line x1="1208.81" y1="767.60" x2="1208.81" y2="1301.20" stroke-dashoffset="-1.4"/><line x1="1278.50" y1="767.60" x2="1278.50" y2="1301.20" stroke-dashoffset="-1.4"/><line x1="1348.19" y1="767.60" x2="1348.19" y2="1301.20" stroke-dashoffset="-1.4"/><line x1="1417.88" y1="767.60" x2="1417.88" y2="1301.20" stroke-dashoffset="-1.4"/><line x1="1487.56" y1="767.60" x2="1487.56" y2="1301.20" stroke-dashoffset="-1.4"/><line x1="1557.25" y1="767.60" x2="1557.25" y2="1301.20" stroke-dashoffset="-1.4"/><line x1="1626.94" y1="767.60" x2="1626.94" y2="1301.20" stroke-dashoffset="-1.4"/><line x1="1696.62" y1="767.60" x2="1696.62" y2="1301.20" stroke-dashoffset="-1.4"/><line x1="1766.31" y1="767.60" x2="1766.31" y2="1301.20" stroke-dashoffset="-1.4"/><line x1="1836.00" y1="767.60" x2="1836.00" y2="1301.20" stroke-dashoffset="-1.4"/><line x1="163.50" y1="820.96" x2="1836.00" y2="820.96"/><line x1="163.50" y1="874.32" x2="1836.00" y2="874.32"/><line x1="163.50" y1="927.68" x2="1836.00" y2="927.68"/><line x1="163.50" y1="981.04" x2="1836.00" y2="981.04"/><line x1="163.50" y1="1034.40" x2="1836.00" y2="1034.40"/><line x1="163.50" y1="1087.76" x2="1836.00" y2="1087.76"/><line x1="163.50" y1="1141.12" x2="1836.00" y2="1141.12"/><line x1="163.50" y1="1194.48" x2="1836.00" y2="1194.48"/><line x1="163.50" y1="1247.84" x2="1836.00" y2="1247.84"/></g>
<line x1="200.7" y1="1301.2" x2="200.7" y2="767.6" stroke="#0b5fd8" stroke-width="3.6" stroke-dasharray="16 15.5"/>
<g stroke="#000" stroke-width="1.2"><line x1="138.5" y1="767.60" x2="163.50" y2="767.60"/><line x1="151" y1="778.27" x2="163.50" y2="778.27"/><line x1="151" y1="788.94" x2="163.50" y2="788.94"/><line x1="151" y1="799.62" x2="163.50" y2="799.62"/><line x1="151" y1="810.29" x2="163.50" y2="810.29"/><line x1="151" y1="820.96" x2="163.50" y2="820.96"/><line x1="151" y1="831.63" x2="163.50" y2="831.63"/><line x1="151" y1="842.30" x2="163.50" y2="842.30"/><line x1="151" y1="852.98" x2="163.50" y2="852.98"/><line x1="151" y1="863.65" x2="163.50" y2="863.65"/><line x1="138.5" y1="874.32" x2="163.50" y2="874.32"/><line x1="151" y1="884.99" x2="163.50" y2="884.99"/><line x1="151" y1="895.66" x2="163.50" y2="895.66"/><line x1="151" y1="906.34" x2="163.50" y2="906.34"/><line x1="151" y1="917.01" x2="163.50" y2="917.01"/><line x1="151" y1="927.68" x2="163.50" y2="927.68"/><line x1="151" y1="938.35" x2="163.50" y2="938.35"/><line x1="151" y1="949.02" x2="163.50" y2="949.02"/><line x1="151" y1="959.70" x2="163.50" y2="959.70"/><line x1="151" y1="970.37" x2="163.50" y2="970.37"/><line x1="138.5" y1="981.04" x2="163.50" y2="981.04"/><line x1="151" y1="991.71" x2="163.50" y2="991.71"/><line x1="151" y1="1002.38" x2="163.50" y2="1002.38"/><line x1="151" y1="1013.06" x2="163.50" y2="1013.06"/><line x1="151" y1="1023.73" x2="163.50" y2="1023.73"/><line x1="151" y1="1034.40" x2="163.50" y2="1034.40"/><line x1="151" y1="1045.07" x2="163.50" y2="1045.07"/><line x1="151" y1="1055.74" x2="163.50" y2="1055.74"/><line x1="151" y1="1066.42" x2="163.50" y2="1066.42"/><line x1="151" y1="1077.09" x2="163.50" y2="1077.09"/><line x1="138.5" y1="1087.76" x2="163.50" y2="1087.76"/><line x1="151" y1="1098.43" x2="163.50" y2="1098.43"/><line x1="151" y1="1109.10" x2="163.50" y2="1109.10"/><line x1="151" y1="1119.78" x2="163.50" y2="1119.78"/><line x1="151" y1="1130.45" x2="163.50" y2="1130.45"/><line x1="151" y1="1141.12" x2="163.50" y2="1141.12"/><line x1="151" y1="1151.79" x2="163.50" y2="1151.79"/><line x1="151" y1="1162.46" x2="163.50" y2="1162.46"/><line x1="151" y1="1173.14" x2="163.50" y2="1173.14"/><line x1="151" y1="1183.81" x2="163.50" y2="1183.81"/><line x1="138.5" y1="1194.48" x2="163.50" y2="1194.48"/><line x1="151" y1="1205.15" x2="163.50" y2="1205.15"/><line x1="151" y1="1215.82" x2="163.50" y2="1215.82"/><line x1="151" y1="1226.50" x2="163.50" y2="1226.50"/><line x1="151" y1="1237.17" x2="163.50" y2="1237.17"/><line x1="151" y1="1247.84" x2="163.50" y2="1247.84"/><line x1="151" y1="1258.51" x2="163.50" y2="1258.51"/><line x1="151" y1="1269.18" x2="163.50" y2="1269.18"/><line x1="151" y1="1279.86" x2="163.50" y2="1279.86"/><line x1="151" y1="1290.53" x2="163.50" y2="1290.53"/><line x1="138.5" y1="1301.20" x2="163.50" y2="1301.20"/><line x1="163.50" y1="1301.20" x2="163.50" y2="1309.20"/><line x1="233.19" y1="1301.20" x2="233.19" y2="1305.20"/><line x1="302.88" y1="1301.20" x2="302.88" y2="1305.20"/><line x1="372.56" y1="1301.20" x2="372.56" y2="1305.20"/><line x1="442.25" y1="1301.20" x2="442.25" y2="1305.20"/><line x1="511.94" y1="1301.20" x2="511.94" y2="1305.20"/><line x1="581.62" y1="1301.20" x2="581.62" y2="1309.20"/><line x1="651.31" y1="1301.20" x2="651.31" y2="1305.20"/><line x1="721.00" y1="1301.20" x2="721.00" y2="1305.20"/><line x1="790.69" y1="1301.20" x2="790.69" y2="1305.20"/><line x1="860.38" y1="1301.20" x2="860.38" y2="1305.20"/><line x1="930.06" y1="1301.20" x2="930.06" y2="1305.20"/><line x1="999.75" y1="1301.20" x2="999.75" y2="1309.20"/><line x1="1069.44" y1="1301.20" x2="1069.44" y2="1305.20"/><line x1="1139.12" y1="1301.20" x2="1139.12" y2="1305.20"/><line x1="1208.81" y1="1301.20" x2="1208.81" y2="1305.20"/><line x1="1278.50" y1="1301.20" x2="1278.50" y2="1305.20"/><line x1="1348.19" y1="1301.20" x2="1348.19" y2="1305.20"/><line x1="1417.88" y1="1301.20" x2="1417.88" y2="1309.20"/><line x1="1487.56" y1="1301.20" x2="1487.56" y2="1305.20"/><line x1="1557.25" y1="1301.20" x2="1557.25" y2="1305.20"/><line x1="1626.94" y1="1301.20" x2="1626.94" y2="1305.20"/><line x1="1696.62" y1="1301.20" x2="1696.62" y2="1305.20"/><line x1="1766.31" y1="1301.20" x2="1766.31" y2="1305.20"/><line x1="1836.00" y1="1301.20" x2="1836.00" y2="1309.20"/></g><g fill="#000"><text x="129.5" y="789.3" text-anchor="end" font-size="37">-40</text><text x="129.5" y="886.5" text-anchor="end" font-size="37">-50</text><text x="129.5" y="993.2" text-anchor="end" font-size="37">-60</text><text x="129.5" y="1099.9" text-anchor="end" font-size="37">-70</text><text x="129.5" y="1206.6" text-anchor="end" font-size="37">-80</text><text x="129.5" y="1301.2" text-anchor="end" font-size="37">-90</text><text x="163.5" y="1355.2" text-anchor="middle" font-size="37">0</text><text x="581.6" y="1355.2" text-anchor="middle" font-size="37">90</text><text x="999.8" y="1355.2" text-anchor="middle" font-size="37">180</text><text x="1417.9" y="1355.2" text-anchor="middle" font-size="37">270</text><text x="1836.0" y="1355.2" text-anchor="middle" font-size="37">360</text><text x="1000" y="751.5" text-anchor="middle" font-size="43.5" transform="translate(1000 0) scale(0.955 1) translate(-1000 0)">Southern hemisphere</text><text x="1000" y="1395.0" text-anchor="middle" font-size="38" transform="translate(1000 0) scale(0.955 1) translate(-1000 0)">SIII Longitude (°)</text><text x="0" y="0" text-anchor="middle" font-size="39" transform="translate(47.1 1034.4) rotate(-90) scale(0.93 1)">Latitude (°)</text></g>
<defs><linearGradient id="cbg" x1="0" y1="1091.0" x2="0" y2="1299.0" gradientUnits="userSpaceOnUse"><stop offset="0.000" stop-color="rgb(236,246,255)"/><stop offset="0.065" stop-color="rgb(207,230,255)"/><stop offset="0.136" stop-color="rgb(144,200,255)"/><stop offset="0.205" stop-color="rgb(58,160,255)"/><stop offset="0.255" stop-color="rgb(24,144,255)"/><stop offset="0.310" stop-color="rgb(10,126,240)"/><stop offset="0.360" stop-color="rgb(8,104,216)"/><stop offset="0.417" stop-color="rgb(8,86,200)"/><stop offset="0.471" stop-color="rgb(6,64,176)"/><stop offset="0.529" stop-color="rgb(4,42,152)"/><stop offset="0.578" stop-color="rgb(2,24,136)"/><stop offset="0.627" stop-color="rgb(0,12,128)"/><stop offset="0.680" stop-color="rgb(0,8,106)"/><stop offset="0.733" stop-color="rgb(0,5,80)"/><stop offset="0.803" stop-color="rgb(0,3,56)"/><stop offset="0.873" stop-color="rgb(0,2,32)"/><stop offset="1.000" stop-color="rgb(0,0,8)"/></linearGradient></defs><rect x="1851.9" y="1090.2" width="36.1" height="209.6" fill="url(#cbg)" stroke="#000" stroke-width="2.6"/><path d="M1852.7,1281.0h2.2 M1887.2,1281.0h-2.2 M1852.7,1269.3h2.2 M1887.2,1269.3h-2.2 M1852.7,1261.0h2.2 M1887.2,1261.0h-2.2 M1852.7,1254.5h2.2 M1887.2,1254.5h-2.2 M1852.7,1249.3h2.2 M1887.2,1249.3h-2.2 M1852.7,1244.8h2.2 M1887.2,1244.8h-2.2 M1852.7,1240.9h2.2 M1887.2,1240.9h-2.2 M1852.7,1237.5h2.2 M1887.2,1237.5h-2.2 M1852.7,1234.5h4 M1887.2,1234.5h-4 M1852.7,1214.5h2.2 M1887.2,1214.5h-2.2 M1852.7,1202.8h2.2 M1887.2,1202.8h-2.2 M1852.7,1194.5h2.2 M1887.2,1194.5h-2.2 M1852.7,1188.0h2.2 M1887.2,1188.0h-2.2 M1852.7,1182.8h2.2 M1887.2,1182.8h-2.2 M1852.7,1178.3h2.2 M1887.2,1178.3h-2.2 M1852.7,1174.4h2.2 M1887.2,1174.4h-2.2 M1852.7,1171.0h2.2 M1887.2,1171.0h-2.2 M1852.7,1168.0h4 M1887.2,1168.0h-4 M1852.7,1148.0h2.2 M1887.2,1148.0h-2.2 M1852.7,1136.3h2.2 M1887.2,1136.3h-2.2 M1852.7,1128.0h2.2 M1887.2,1128.0h-2.2 M1852.7,1121.5h2.2 M1887.2,1121.5h-2.2 M1852.7,1116.3h2.2 M1887.2,1116.3h-2.2 M1852.7,1111.8h2.2 M1887.2,1111.8h-2.2 M1852.7,1107.9h2.2 M1887.2,1107.9h-2.2 M1852.7,1104.5h2.2 M1887.2,1104.5h-2.2 M1852.7,1101.5h4 M1887.2,1101.5h-4" stroke="#000" stroke-width="1.2" fill="none"/><text x="1897.8" y="1112.2" font-size="29" style="font-family:'Liberation Sans',sans-serif">1000</text><text x="1897.8" y="1178.2" font-size="29" style="font-family:'Liberation Sans',sans-serif">100</text><text x="1897.8" y="1244.0" font-size="29" style="font-family:'Liberation Sans',sans-serif">10</text><text x="1897.8" y="1299.6" font-size="29" style="font-family:'Liberation Sans',sans-serif">1</text><text x="1837.8" y="1077.9" font-size="29" style="font-family:'Liberation Sans',sans-serif">kR H</text><text x="1902.3" y="1081.9" font-size="13.5" style="font-family:'Liberation Sans',sans-serif">2</text>
</svg></body></html>
